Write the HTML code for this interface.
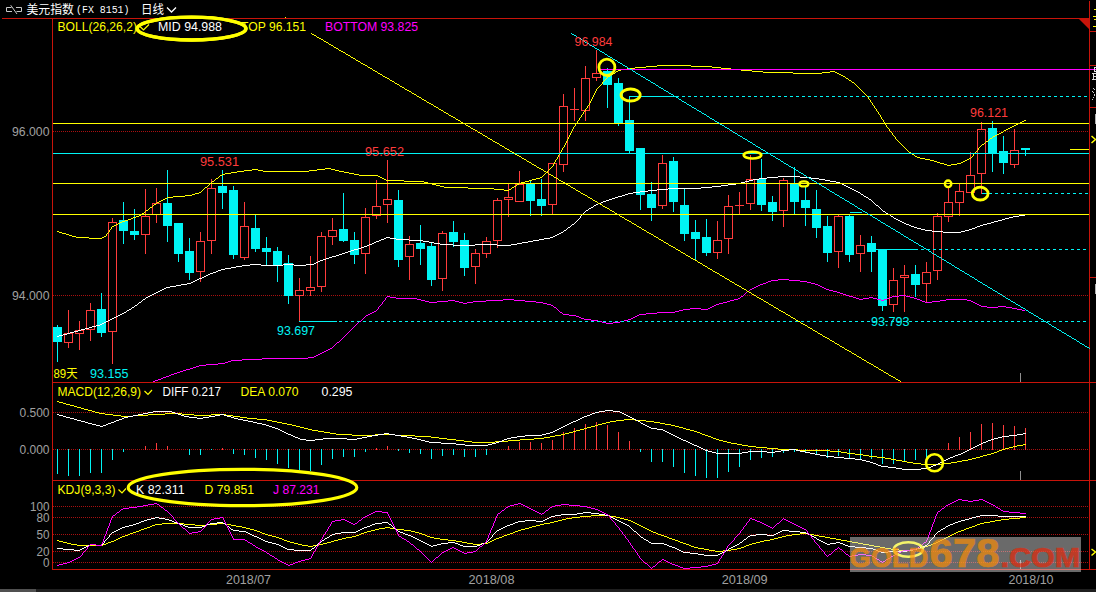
<!DOCTYPE html>
<html lang="zh"><head><meta charset="utf-8"><title>美元指数 日线</title>
<style>
html,body{margin:0;padding:0;background:#000;overflow:hidden}
svg{display:block}
text{white-space:pre}
</style></head><body>
<svg width="1096" height="592" viewBox="0 0 1096 592">
<rect x="0" y="0" width="1096" height="592" fill="#000"/>
<rect x="0" y="589" width="1096" height="3" fill="#1f1f1f"/>
<rect x="0" y="589" width="36" height="3" fill="#505050"/>
<line x1="53" y1="131.5" x2="1089" y2="131.5" stroke="#a81010" stroke-width="1" stroke-dasharray="1 1" shape-rendering="crispEdges"/>
<line x1="53" y1="295.5" x2="1089" y2="295.5" stroke="#a81010" stroke-width="1" stroke-dasharray="1 1" shape-rendering="crispEdges"/>
<line x1="53" y1="412.5" x2="1089" y2="412.5" stroke="#a81010" stroke-width="1" stroke-dasharray="1 1" shape-rendering="crispEdges"/>
<line x1="53" y1="449.5" x2="1089" y2="449.5" stroke="#a81010" stroke-width="1" stroke-dasharray="1 1" shape-rendering="crispEdges"/>
<line x1="53" y1="506.5" x2="1089" y2="506.5" stroke="#a81010" stroke-width="1" stroke-dasharray="1 1" shape-rendering="crispEdges"/>
<line x1="53" y1="517.5" x2="1089" y2="517.5" stroke="#a81010" stroke-width="1" stroke-dasharray="1 1" shape-rendering="crispEdges"/>
<line x1="53" y1="534.5" x2="1089" y2="534.5" stroke="#a81010" stroke-width="1" stroke-dasharray="1 1" shape-rendering="crispEdges"/>
<line x1="53" y1="551.5" x2="1089" y2="551.5" stroke="#a81010" stroke-width="1" stroke-dasharray="1 1" shape-rendering="crispEdges"/>
<line x1="53" y1="562.5" x2="1089" y2="562.5" stroke="#a81010" stroke-width="1" stroke-dasharray="1 1" shape-rendering="crispEdges"/>
<line x1="2" y1="18.5" x2="1089" y2="18.5" stroke="#c8140a" stroke-width="1" shape-rendering="crispEdges"/>
<line x1="53" y1="382.5" x2="1096" y2="382.5" stroke="#c8140a" stroke-width="1" shape-rendering="crispEdges"/>
<line x1="53" y1="480.5" x2="1096" y2="480.5" stroke="#c8140a" stroke-width="1" shape-rendering="crispEdges"/>
<line x1="53" y1="569.5" x2="1096" y2="569.5" stroke="#c8140a" stroke-width="1" shape-rendering="crispEdges"/>
<line x1="52.5" y1="18" x2="52.5" y2="570" stroke="#c8140a" stroke-width="1" shape-rendering="crispEdges"/>
<line x1="1089.5" y1="1" x2="1089.5" y2="570" stroke="#c8140a" stroke-width="1" shape-rendering="crispEdges"/>
<polygon points="1079,19 1089,19 1089,29" fill="#c8140a"/>
<line x1="1090" y1="31.5" x2="1096" y2="31.5" stroke="#c8140a" stroke-width="1" shape-rendering="crispEdges"/>
<line x1="1090" y1="65.5" x2="1096" y2="65.5" stroke="#c8140a" stroke-width="1" shape-rendering="crispEdges"/>
<line x1="1090" y1="107.5" x2="1096" y2="107.5" stroke="#c8140a" stroke-width="1" shape-rendering="crispEdges"/>
<line x1="1090" y1="277.5" x2="1096" y2="277.5" stroke="#c8140a" stroke-width="1" shape-rendering="crispEdges"/>
<rect x="57" y="325" width="1" height="37" fill="#00f4f4"/>
<rect x="53" y="327" width="9" height="15" fill="#00f4f4"/>
<rect x="68" y="310" width="1" height="23" fill="#ff3c3c"/>
<rect x="68" y="343" width="1" height="5" fill="#ff3c3c"/>
<rect x="64.5" y="333.5" width="8" height="9" fill="none" stroke="#ff3c3c" stroke-width="1"/>
<rect x="79" y="321" width="1" height="9" fill="#ff3c3c"/>
<rect x="79" y="334" width="1" height="16" fill="#ff3c3c"/>
<rect x="75.5" y="330.5" width="8" height="3" fill="none" stroke="#ff3c3c" stroke-width="1"/>
<rect x="90" y="303" width="1" height="7" fill="#ff3c3c"/>
<rect x="90" y="330" width="1" height="11" fill="#ff3c3c"/>
<rect x="86.5" y="310.5" width="8" height="19" fill="none" stroke="#ff3c3c" stroke-width="1"/>
<rect x="101" y="293" width="1" height="44" fill="#00f4f4"/>
<rect x="97" y="309" width="9" height="24" fill="#00f4f4"/>
<rect x="112" y="218" width="1" height="4" fill="#ff3c3c"/>
<rect x="112" y="332" width="1" height="32" fill="#ff3c3c"/>
<rect x="108.5" y="222.5" width="8" height="109" fill="none" stroke="#ff3c3c" stroke-width="1"/>
<rect x="123" y="202" width="1" height="42" fill="#00f4f4"/>
<rect x="119" y="220" width="9" height="11" fill="#00f4f4"/>
<rect x="134" y="209" width="1" height="31" fill="#00f4f4"/>
<rect x="130" y="231" width="9" height="4" fill="#00f4f4"/>
<rect x="145" y="189" width="1" height="27" fill="#ff3c3c"/>
<rect x="145" y="235" width="1" height="19" fill="#ff3c3c"/>
<rect x="141.5" y="216.5" width="8" height="18" fill="none" stroke="#ff3c3c" stroke-width="1"/>
<rect x="156" y="188" width="1" height="15" fill="#ff3c3c"/>
<rect x="156" y="215" width="1" height="8" fill="#ff3c3c"/>
<rect x="152.5" y="203.5" width="8" height="11" fill="none" stroke="#ff3c3c" stroke-width="1"/>
<rect x="167" y="170" width="1" height="72" fill="#00f4f4"/>
<rect x="163" y="203" width="9" height="23" fill="#00f4f4"/>
<rect x="178" y="223" width="1" height="39" fill="#00f4f4"/>
<rect x="174" y="223" width="9" height="31" fill="#00f4f4"/>
<rect x="189" y="238" width="1" height="42" fill="#00f4f4"/>
<rect x="185" y="251" width="9" height="22" fill="#00f4f4"/>
<rect x="200" y="232" width="1" height="9" fill="#ff3c3c"/>
<rect x="200" y="272" width="1" height="10" fill="#ff3c3c"/>
<rect x="196.5" y="241.5" width="8" height="30" fill="none" stroke="#ff3c3c" stroke-width="1"/>
<rect x="211" y="179" width="1" height="9" fill="#ff3c3c"/>
<rect x="211" y="241" width="1" height="13" fill="#ff3c3c"/>
<rect x="207.5" y="188.5" width="8" height="52" fill="none" stroke="#ff3c3c" stroke-width="1"/>
<rect x="222" y="170" width="1" height="39" fill="#00f4f4"/>
<rect x="218" y="186" width="9" height="7" fill="#00f4f4"/>
<rect x="233" y="186" width="1" height="73" fill="#00f4f4"/>
<rect x="229" y="190" width="9" height="65" fill="#00f4f4"/>
<rect x="244" y="202" width="1" height="24" fill="#ff3c3c"/>
<rect x="244" y="258" width="1" height="2" fill="#ff3c3c"/>
<rect x="240.5" y="226.5" width="8" height="31" fill="none" stroke="#ff3c3c" stroke-width="1"/>
<rect x="255" y="215" width="1" height="37" fill="#00f4f4"/>
<rect x="251" y="228" width="9" height="21" fill="#00f4f4"/>
<rect x="266" y="237" width="1" height="28" fill="#00f4f4"/>
<rect x="262" y="248" width="9" height="4" fill="#00f4f4"/>
<rect x="277" y="247" width="1" height="35" fill="#00f4f4"/>
<rect x="273" y="251" width="9" height="15" fill="#00f4f4"/>
<rect x="288" y="255" width="1" height="49" fill="#00f4f4"/>
<rect x="284" y="263" width="9" height="33" fill="#00f4f4"/>
<rect x="299" y="278" width="1" height="12" fill="#ff3c3c"/>
<rect x="299" y="296" width="1" height="25" fill="#ff3c3c"/>
<rect x="295.5" y="290.5" width="8" height="5" fill="none" stroke="#ff3c3c" stroke-width="1"/>
<rect x="310" y="256" width="1" height="31" fill="#ff3c3c"/>
<rect x="310" y="291" width="1" height="5" fill="#ff3c3c"/>
<rect x="306.5" y="287.5" width="8" height="3" fill="none" stroke="#ff3c3c" stroke-width="1"/>
<rect x="321" y="232" width="1" height="4" fill="#ff3c3c"/>
<rect x="321" y="287" width="1" height="5" fill="#ff3c3c"/>
<rect x="317.5" y="236.5" width="8" height="50" fill="none" stroke="#ff3c3c" stroke-width="1"/>
<rect x="332" y="218" width="1" height="12" fill="#ff3c3c"/>
<rect x="332" y="237" width="1" height="8" fill="#ff3c3c"/>
<rect x="328.5" y="230.5" width="8" height="6" fill="none" stroke="#ff3c3c" stroke-width="1"/>
<rect x="343" y="193" width="1" height="49" fill="#00f4f4"/>
<rect x="339" y="229" width="9" height="12" fill="#00f4f4"/>
<rect x="354" y="232" width="1" height="32" fill="#00f4f4"/>
<rect x="350" y="240" width="9" height="15" fill="#00f4f4"/>
<rect x="365" y="208" width="1" height="9" fill="#ff3c3c"/>
<rect x="365" y="254" width="1" height="20" fill="#ff3c3c"/>
<rect x="361.5" y="217.5" width="8" height="36" fill="none" stroke="#ff3c3c" stroke-width="1"/>
<rect x="376" y="180" width="1" height="26" fill="#ff3c3c"/>
<rect x="376" y="216" width="1" height="3" fill="#ff3c3c"/>
<rect x="372.5" y="206.5" width="8" height="9" fill="none" stroke="#ff3c3c" stroke-width="1"/>
<rect x="387" y="160" width="1" height="39" fill="#ff3c3c"/>
<rect x="387" y="205" width="1" height="18" fill="#ff3c3c"/>
<rect x="383.5" y="199.5" width="8" height="5" fill="none" stroke="#ff3c3c" stroke-width="1"/>
<rect x="398" y="190" width="1" height="77" fill="#00f4f4"/>
<rect x="394" y="200" width="9" height="60" fill="#00f4f4"/>
<rect x="409" y="236" width="1" height="8" fill="#ff3c3c"/>
<rect x="409" y="257" width="1" height="23" fill="#ff3c3c"/>
<rect x="405.5" y="244.5" width="8" height="12" fill="none" stroke="#ff3c3c" stroke-width="1"/>
<rect x="420" y="225" width="1" height="40" fill="#00f4f4"/>
<rect x="416" y="243" width="9" height="6" fill="#00f4f4"/>
<rect x="431" y="242" width="1" height="44" fill="#00f4f4"/>
<rect x="427" y="246" width="9" height="34" fill="#00f4f4"/>
<rect x="442" y="231" width="1" height="2" fill="#ff3c3c"/>
<rect x="442" y="279" width="1" height="12" fill="#ff3c3c"/>
<rect x="438.5" y="233.5" width="8" height="45" fill="none" stroke="#ff3c3c" stroke-width="1"/>
<rect x="453" y="221" width="1" height="26" fill="#00f4f4"/>
<rect x="449" y="232" width="9" height="10" fill="#00f4f4"/>
<rect x="464" y="233" width="1" height="43" fill="#00f4f4"/>
<rect x="460" y="240" width="9" height="28" fill="#00f4f4"/>
<rect x="475" y="249" width="1" height="4" fill="#ff3c3c"/>
<rect x="475" y="267" width="1" height="17" fill="#ff3c3c"/>
<rect x="471.5" y="253.5" width="8" height="13" fill="none" stroke="#ff3c3c" stroke-width="1"/>
<rect x="486" y="237" width="1" height="4" fill="#ff3c3c"/>
<rect x="486" y="254" width="1" height="4" fill="#ff3c3c"/>
<rect x="482.5" y="241.5" width="8" height="12" fill="none" stroke="#ff3c3c" stroke-width="1"/>
<rect x="497" y="198" width="1" height="2" fill="#ff3c3c"/>
<rect x="497" y="241" width="1" height="7" fill="#ff3c3c"/>
<rect x="493.5" y="200.5" width="8" height="40" fill="none" stroke="#ff3c3c" stroke-width="1"/>
<rect x="508" y="184" width="1" height="13" fill="#ff3c3c"/>
<rect x="508" y="200" width="1" height="17" fill="#ff3c3c"/>
<rect x="504.5" y="197.5" width="8" height="2" fill="none" stroke="#ff3c3c" stroke-width="1"/>
<rect x="519" y="171" width="1" height="13" fill="#ff3c3c"/>
<rect x="515.5" y="184.5" width="8" height="17" fill="none" stroke="#ff3c3c" stroke-width="1"/>
<rect x="530" y="180" width="1" height="36" fill="#00f4f4"/>
<rect x="526" y="184" width="9" height="17" fill="#00f4f4"/>
<rect x="541" y="179" width="1" height="37" fill="#00f4f4"/>
<rect x="537" y="199" width="9" height="7" fill="#00f4f4"/>
<rect x="552" y="205" width="1" height="9" fill="#ff3c3c"/>
<rect x="548.5" y="163.5" width="8" height="41" fill="none" stroke="#ff3c3c" stroke-width="1"/>
<rect x="563" y="94" width="1" height="12" fill="#ff3c3c"/>
<rect x="563" y="165" width="1" height="7" fill="#ff3c3c"/>
<rect x="559.5" y="106.5" width="8" height="58" fill="none" stroke="#ff3c3c" stroke-width="1"/>
<rect x="574" y="88" width="1" height="21" fill="#ff3c3c"/>
<rect x="574" y="110" width="1" height="11" fill="#ff3c3c"/>
<rect x="570" y="109" width="9" height="1" fill="#ff3c3c"/>
<rect x="585" y="66" width="1" height="12" fill="#ff3c3c"/>
<rect x="585" y="111" width="1" height="10" fill="#ff3c3c"/>
<rect x="581.5" y="78.5" width="8" height="32" fill="none" stroke="#ff3c3c" stroke-width="1"/>
<rect x="596" y="50" width="1" height="23" fill="#ff3c3c"/>
<rect x="596" y="78" width="1" height="3" fill="#ff3c3c"/>
<rect x="592.5" y="73.5" width="8" height="4" fill="none" stroke="#ff3c3c" stroke-width="1"/>
<rect x="607" y="68" width="1" height="40" fill="#00f4f4"/>
<rect x="603" y="71" width="9" height="14" fill="#00f4f4"/>
<rect x="618" y="78" width="1" height="48" fill="#00f4f4"/>
<rect x="614" y="83" width="9" height="41" fill="#00f4f4"/>
<rect x="629" y="96" width="1" height="58" fill="#00f4f4"/>
<rect x="625" y="120" width="9" height="31" fill="#00f4f4"/>
<rect x="640" y="148" width="1" height="62" fill="#00f4f4"/>
<rect x="636" y="148" width="9" height="47" fill="#00f4f4"/>
<rect x="651" y="182" width="1" height="39" fill="#00f4f4"/>
<rect x="647" y="194" width="9" height="14" fill="#00f4f4"/>
<rect x="662" y="155" width="1" height="8" fill="#ff3c3c"/>
<rect x="662" y="206" width="1" height="3" fill="#ff3c3c"/>
<rect x="658.5" y="163.5" width="8" height="42" fill="none" stroke="#ff3c3c" stroke-width="1"/>
<rect x="673" y="157" width="1" height="55" fill="#00f4f4"/>
<rect x="669" y="161" width="9" height="41" fill="#00f4f4"/>
<rect x="684" y="188" width="1" height="53" fill="#00f4f4"/>
<rect x="680" y="205" width="9" height="29" fill="#00f4f4"/>
<rect x="695" y="220" width="1" height="41" fill="#00f4f4"/>
<rect x="691" y="232" width="9" height="7" fill="#00f4f4"/>
<rect x="706" y="219" width="1" height="37" fill="#00f4f4"/>
<rect x="702" y="237" width="9" height="16" fill="#00f4f4"/>
<rect x="717" y="221" width="1" height="19" fill="#ff3c3c"/>
<rect x="717" y="253" width="1" height="6" fill="#ff3c3c"/>
<rect x="713.5" y="240.5" width="8" height="12" fill="none" stroke="#ff3c3c" stroke-width="1"/>
<rect x="728" y="195" width="1" height="11" fill="#ff3c3c"/>
<rect x="728" y="239" width="1" height="15" fill="#ff3c3c"/>
<rect x="724.5" y="206.5" width="8" height="32" fill="none" stroke="#ff3c3c" stroke-width="1"/>
<rect x="739" y="192" width="1" height="13" fill="#ff3c3c"/>
<rect x="739" y="206" width="1" height="8" fill="#ff3c3c"/>
<rect x="735" y="205" width="9" height="1" fill="#ff3c3c"/>
<rect x="750" y="155" width="1" height="24" fill="#ff3c3c"/>
<rect x="750" y="204" width="1" height="6" fill="#ff3c3c"/>
<rect x="746.5" y="179.5" width="8" height="24" fill="none" stroke="#ff3c3c" stroke-width="1"/>
<rect x="761" y="159" width="1" height="52" fill="#00f4f4"/>
<rect x="757" y="179" width="9" height="26" fill="#00f4f4"/>
<rect x="772" y="196" width="1" height="25" fill="#00f4f4"/>
<rect x="768" y="202" width="9" height="10" fill="#00f4f4"/>
<rect x="783" y="178" width="1" height="2" fill="#ff3c3c"/>
<rect x="783" y="211" width="1" height="16" fill="#ff3c3c"/>
<rect x="779.5" y="180.5" width="8" height="30" fill="none" stroke="#ff3c3c" stroke-width="1"/>
<rect x="794" y="167" width="1" height="47" fill="#00f4f4"/>
<rect x="790" y="184" width="9" height="18" fill="#00f4f4"/>
<rect x="805" y="186" width="1" height="40" fill="#00f4f4"/>
<rect x="801" y="200" width="9" height="8" fill="#00f4f4"/>
<rect x="816" y="190" width="1" height="48" fill="#00f4f4"/>
<rect x="812" y="209" width="9" height="19" fill="#00f4f4"/>
<rect x="827" y="216" width="1" height="46" fill="#00f4f4"/>
<rect x="823" y="226" width="9" height="27" fill="#00f4f4"/>
<rect x="838" y="214" width="1" height="2" fill="#ff3c3c"/>
<rect x="838" y="252" width="1" height="16" fill="#ff3c3c"/>
<rect x="834.5" y="216.5" width="8" height="35" fill="none" stroke="#ff3c3c" stroke-width="1"/>
<rect x="849" y="215" width="1" height="47" fill="#00f4f4"/>
<rect x="845" y="216" width="9" height="39" fill="#00f4f4"/>
<rect x="860" y="235" width="1" height="10" fill="#ff3c3c"/>
<rect x="860" y="254" width="1" height="18" fill="#ff3c3c"/>
<rect x="856.5" y="245.5" width="8" height="8" fill="none" stroke="#ff3c3c" stroke-width="1"/>
<rect x="871" y="236" width="1" height="36" fill="#00f4f4"/>
<rect x="867" y="243" width="9" height="9" fill="#00f4f4"/>
<rect x="882" y="250" width="1" height="61" fill="#00f4f4"/>
<rect x="878" y="250" width="9" height="56" fill="#00f4f4"/>
<rect x="893" y="268" width="1" height="12" fill="#ff3c3c"/>
<rect x="893" y="305" width="1" height="7" fill="#ff3c3c"/>
<rect x="889.5" y="280.5" width="8" height="24" fill="none" stroke="#ff3c3c" stroke-width="1"/>
<rect x="904" y="265" width="1" height="10" fill="#ff3c3c"/>
<rect x="904" y="278" width="1" height="34" fill="#ff3c3c"/>
<rect x="900.5" y="275.5" width="8" height="2" fill="none" stroke="#ff3c3c" stroke-width="1"/>
<rect x="915" y="265" width="1" height="32" fill="#00f4f4"/>
<rect x="911" y="274" width="9" height="11" fill="#00f4f4"/>
<rect x="926" y="262" width="1" height="10" fill="#ff3c3c"/>
<rect x="926" y="284" width="1" height="18" fill="#ff3c3c"/>
<rect x="922.5" y="272.5" width="8" height="11" fill="none" stroke="#ff3c3c" stroke-width="1"/>
<rect x="937" y="213" width="1" height="3" fill="#ff3c3c"/>
<rect x="937" y="271" width="1" height="9" fill="#ff3c3c"/>
<rect x="933.5" y="216.5" width="8" height="54" fill="none" stroke="#ff3c3c" stroke-width="1"/>
<rect x="948" y="188" width="1" height="14" fill="#ff3c3c"/>
<rect x="948" y="217" width="1" height="5" fill="#ff3c3c"/>
<rect x="944.5" y="202.5" width="8" height="14" fill="none" stroke="#ff3c3c" stroke-width="1"/>
<rect x="959" y="184" width="1" height="7" fill="#ff3c3c"/>
<rect x="959" y="203" width="1" height="13" fill="#ff3c3c"/>
<rect x="955.5" y="191.5" width="8" height="11" fill="none" stroke="#ff3c3c" stroke-width="1"/>
<rect x="970" y="152" width="1" height="23" fill="#ff3c3c"/>
<rect x="966.5" y="175.5" width="8" height="17" fill="none" stroke="#ff3c3c" stroke-width="1"/>
<rect x="981" y="122" width="1" height="7" fill="#ff3c3c"/>
<rect x="981" y="174" width="1" height="20" fill="#ff3c3c"/>
<rect x="977.5" y="129.5" width="8" height="44" fill="none" stroke="#ff3c3c" stroke-width="1"/>
<rect x="992" y="121" width="1" height="51" fill="#00f4f4"/>
<rect x="988" y="128" width="9" height="26" fill="#00f4f4"/>
<rect x="1003" y="136" width="1" height="38" fill="#00f4f4"/>
<rect x="999" y="151" width="9" height="12" fill="#00f4f4"/>
<rect x="1014" y="129" width="1" height="21" fill="#ff3c3c"/>
<rect x="1014" y="165" width="1" height="3" fill="#ff3c3c"/>
<rect x="1010.5" y="150.5" width="8" height="14" fill="none" stroke="#ff3c3c" stroke-width="1"/>
<rect x="1025" y="148" width="1" height="8" fill="#00f4f4"/>
<rect x="1021" y="148" width="9" height="2" fill="#00f4f4"/>
<path d="M657 65h34v1h-34zM646 66h11v1h-11zM691 66h21v1h-21zM635 67h11v1h-11zM712 67h9v1h-9zM627 68h8v1h-8zM721 68h10v1h-10zM621 69h6v1h-6zM731 69h10v1h-10zM618 70h3v1h-3zM741 70h11v1h-11zM616 71h2v1h-2zM752 71h11v1h-11zM830 71h5v1h-5zM615 72h1v1h-1zM763 72h30v1h-30zM822 72h8v1h-8zM835 72h2v1h-2zM613 73h2v1h-2zM793 73h29v1h-29zM837 73h2v1h-2zM611 74h2v1h-2zM839 74h2v1h-2zM610 75h1v1h-1zM841 75h2v1h-2zM608 76h2v1h-2zM843 76h2v1h-2zM607 77h1v1h-1zM845 77h1v1h-1zM606 78h1v1h-1zM846 78h2v1h-2zM605 79h1v1h-1zM848 79h1v1h-1zM604 80h1v1h-1zM849 80h2v1h-2zM603 81h1v1h-1zM851 81h1v1h-1zM602 82h1v1h-1zM852 82h2v1h-2zM602 83h1v1h-1zM854 83h1v1h-1zM601 84h1v1h-1zM855 84h1v1h-1zM600 85h1v1h-1zM856 85h1v1h-1zM599 86h1v1h-1zM857 86h1v1h-1zM598 87h1v1h-1zM858 87h1v1h-1zM597 88h1v1h-1zM859 88h1v1h-1zM596 89h1v1h-1zM860 89h1v1h-1zM596 90h1v1h-1zM861 90h1v1h-1zM595 91h1v1h-1zM862 91h1v1h-1zM595 92h1v1h-1zM863 92h1v1h-1zM594 93h1v1h-1zM864 93h1v1h-1zM594 94h1v1h-1zM865 94h1v1h-1zM593 95h1v1h-1zM866 95h1v1h-1zM593 96h1v1h-1zM867 96h1v1h-1zM592 97h1v1h-1zM868 97h1v1h-1zM592 98h1v1h-1zM868 98h1v1h-1zM591 99h1v1h-1zM869 99h1v1h-1zM591 100h1v1h-1zM870 100h1v1h-1zM590 101h1v1h-1zM870 101h1v1h-1zM590 102h1v1h-1zM871 102h1v1h-1zM589 103h1v1h-1zM872 103h1v1h-1zM589 104h1v1h-1zM872 104h1v1h-1zM588 105h1v1h-1zM873 105h1v1h-1zM587 106h1v1h-1zM874 106h1v1h-1zM587 107h1v1h-1zM874 107h1v1h-1zM586 108h1v1h-1zM875 108h1v1h-1zM585 109h1v1h-1zM876 109h1v1h-1zM585 110h1v1h-1zM876 110h1v1h-1zM584 111h1v1h-1zM877 111h1v1h-1zM583 112h1v1h-1zM878 112h1v1h-1zM583 113h1v1h-1zM878 113h1v1h-1zM582 114h1v1h-1zM879 114h1v1h-1zM581 115h1v1h-1zM880 115h1v1h-1zM581 116h1v1h-1zM880 116h1v1h-1zM580 117h1v1h-1zM881 117h1v1h-1zM579 118h1v1h-1zM881 118h1v1h-1zM579 119h1v1h-1zM882 119h1v1h-1zM578 120h1v1h-1zM883 120h1v1h-1zM1024 120h2v1h-2zM577 121h1v1h-1zM883 121h1v1h-1zM1022 121h2v1h-2zM577 122h1v1h-1zM884 122h1v1h-1zM1020 122h2v1h-2zM576 123h1v1h-1zM885 123h1v1h-1zM1018 123h2v1h-2zM575 124h1v1h-1zM885 124h1v1h-1zM1016 124h2v1h-2zM575 125h1v1h-1zM886 125h1v1h-1zM1014 125h2v1h-2zM574 126h1v1h-1zM886 126h1v1h-1zM1012 126h2v1h-2zM573 127h1v1h-1zM887 127h1v1h-1zM1010 127h2v1h-2zM573 128h1v1h-1zM888 128h1v1h-1zM1008 128h2v1h-2zM572 129h1v1h-1zM889 129h1v1h-1zM1006 129h2v1h-2zM572 130h1v1h-1zM889 130h1v1h-1zM1004 130h2v1h-2zM571 131h1v1h-1zM890 131h1v1h-1zM1003 131h1v1h-1zM571 132h1v1h-1zM891 132h1v1h-1zM1001 132h2v1h-2zM570 133h1v1h-1zM892 133h1v1h-1zM999 133h2v1h-2zM570 134h1v1h-1zM892 134h1v1h-1zM997 134h2v1h-2zM569 135h1v1h-1zM893 135h1v1h-1zM995 135h2v1h-2zM569 136h1v1h-1zM894 136h1v1h-1zM993 136h2v1h-2zM568 137h1v1h-1zM895 137h1v1h-1zM992 137h1v1h-1zM568 138h1v1h-1zM895 138h1v1h-1zM990 138h2v1h-2zM567 139h1v1h-1zM896 139h1v1h-1zM989 139h1v1h-1zM567 140h1v1h-1zM897 140h1v1h-1zM988 140h1v1h-1zM566 141h1v1h-1zM898 141h1v1h-1zM986 141h2v1h-2zM566 142h1v1h-1zM899 142h1v1h-1zM985 142h1v1h-1zM565 143h1v1h-1zM900 143h1v1h-1zM984 143h1v1h-1zM565 144h1v1h-1zM901 144h1v1h-1zM982 144h2v1h-2zM564 145h1v1h-1zM902 145h1v1h-1zM981 145h1v1h-1zM564 146h1v1h-1zM903 146h1v1h-1zM980 146h1v1h-1zM563 147h1v1h-1zM904 147h1v1h-1zM979 147h1v1h-1zM562 148h1v1h-1zM905 148h1v1h-1zM978 148h1v1h-1zM562 149h1v1h-1zM906 149h1v1h-1zM978 149h1v1h-1zM561 150h1v1h-1zM907 150h1v1h-1zM977 150h1v1h-1zM561 151h1v1h-1zM908 151h1v1h-1zM976 151h1v1h-1zM560 152h1v1h-1zM909 152h2v1h-2zM975 152h1v1h-1zM560 153h1v1h-1zM911 153h1v1h-1zM974 153h1v1h-1zM559 154h1v1h-1zM912 154h2v1h-2zM973 154h1v1h-1zM558 155h1v1h-1zM914 155h1v1h-1zM973 155h1v1h-1zM558 156h1v1h-1zM915 156h2v1h-2zM972 156h1v1h-1zM557 157h1v1h-1zM917 157h3v1h-3zM971 157h1v1h-1zM557 158h1v1h-1zM920 158h5v1h-5zM969 158h2v1h-2zM556 159h1v1h-1zM925 159h5v1h-5zM967 159h2v1h-2zM555 160h1v1h-1zM930 160h4v1h-4zM965 160h2v1h-2zM555 161h1v1h-1zM934 161h3v1h-3zM963 161h2v1h-2zM554 162h1v1h-1zM937 162h3v1h-3zM961 162h2v1h-2zM554 163h1v1h-1zM940 163h4v1h-4zM957 163h4v1h-4zM553 164h1v1h-1zM944 164h3v1h-3zM951 164h6v1h-6zM553 165h1v1h-1zM947 165h4v1h-4zM552 166h1v1h-1zM551 167h1v1h-1zM325 168h6v1h-6zM550 168h1v1h-1zM252 169h6v1h-6zM317 169h8v1h-8zM331 169h4v1h-4zM549 169h1v1h-1zM244 170h8v1h-8zM258 170h5v1h-5zM309 170h8v1h-8zM335 170h4v1h-4zM548 170h1v1h-1zM237 171h7v1h-7zM263 171h46v1h-46zM339 171h5v1h-5zM547 171h1v1h-1zM231 172h6v1h-6zM344 172h5v1h-5zM546 172h1v1h-1zM225 173h6v1h-6zM349 173h5v1h-5zM545 173h1v1h-1zM222 174h3v1h-3zM354 174h5v1h-5zM544 174h1v1h-1zM220 175h2v1h-2zM359 175h19v1h-19zM543 175h1v1h-1zM219 176h1v1h-1zM378 176h2v1h-2zM542 176h1v1h-1zM218 177h1v1h-1zM380 177h2v1h-2zM540 177h2v1h-2zM216 178h2v1h-2zM382 178h2v1h-2zM536 178h4v1h-4zM215 179h1v1h-1zM384 179h2v1h-2zM532 179h4v1h-4zM214 180h1v1h-1zM386 180h18v1h-18zM529 180h3v1h-3zM212 181h2v1h-2zM404 181h20v1h-20zM525 181h4v1h-4zM211 182h1v1h-1zM424 182h4v1h-4zM521 182h4v1h-4zM210 183h1v1h-1zM428 183h4v1h-4zM519 183h2v1h-2zM209 184h1v1h-1zM432 184h4v1h-4zM517 184h2v1h-2zM208 185h1v1h-1zM436 185h4v1h-4zM516 185h1v1h-1zM207 186h1v1h-1zM440 186h4v1h-4zM514 186h2v1h-2zM205 187h2v1h-2zM444 187h24v1h-24zM512 187h2v1h-2zM204 188h1v1h-1zM468 188h26v1h-26zM511 188h1v1h-1zM203 189h1v1h-1zM494 189h10v1h-10zM509 189h2v1h-2zM202 190h1v1h-1zM504 190h5v1h-5zM201 191h1v1h-1zM199 192h2v1h-2zM195 193h4v1h-4zM192 194h3v1h-3zM185 195h7v1h-7zM173 196h12v1h-12zM167 197h6v1h-6zM165 198h2v1h-2zM163 199h2v1h-2zM161 200h2v1h-2zM159 201h2v1h-2zM157 202h2v1h-2zM156 203h1v1h-1zM154 204h2v1h-2zM153 205h1v1h-1zM152 206h1v1h-1zM150 207h2v1h-2zM149 208h1v1h-1zM148 209h1v1h-1zM146 210h2v1h-2zM145 211h1v1h-1zM144 212h1v1h-1zM142 213h2v1h-2zM141 214h1v1h-1zM139 215h2v1h-2zM136 216h3v1h-3zM133 217h3v1h-3zM131 218h2v1h-2zM128 219h3v1h-3zM125 220h3v1h-3zM122 221h3v1h-3zM120 222h2v1h-2zM118 223h2v1h-2zM116 224h2v1h-2zM114 225h2v1h-2zM112 226h2v1h-2zM111 227h1v1h-1zM111 228h1v1h-1zM110 229h1v1h-1zM109 230h1v1h-1zM57 231h2v1h-2zM109 231h1v1h-1zM59 232h3v1h-3zM108 232h1v1h-1zM62 233h4v1h-4zM107 233h1v1h-1zM66 234h3v1h-3zM106 234h1v1h-1zM69 235h3v1h-3zM106 235h1v1h-1zM72 236h4v1h-4zM104 236h2v1h-2zM76 237h13v1h-13zM102 237h2v1h-2zM89 238h13v1h-13z" fill="#ffff00" shape-rendering="crispEdges"/>
<path d="M778 176h22v1h-22zM767 177h11v1h-11zM800 177h11v1h-11zM759 178h8v1h-8zM811 178h8v1h-8zM753 179h6v1h-6zM819 179h6v1h-6zM749 180h4v1h-4zM825 180h5v1h-5zM745 181h4v1h-4zM830 181h6v1h-6zM741 182h4v1h-4zM836 182h4v1h-4zM736 183h5v1h-5zM840 183h2v1h-2zM728 184h8v1h-8zM842 184h2v1h-2zM721 185h7v1h-7zM844 185h2v1h-2zM712 186h9v1h-9zM846 186h2v1h-2zM701 187h11v1h-11zM848 187h2v1h-2zM668 188h33v1h-33zM850 188h2v1h-2zM657 189h11v1h-11zM852 189h2v1h-2zM648 190h9v1h-9zM854 190h2v1h-2zM640 191h8v1h-8zM856 191h2v1h-2zM633 192h7v1h-7zM858 192h2v1h-2zM628 193h5v1h-5zM860 193h1v1h-1zM625 194h3v1h-3zM861 194h2v1h-2zM622 195h3v1h-3zM863 195h1v1h-1zM618 196h4v1h-4zM864 196h2v1h-2zM615 197h3v1h-3zM866 197h2v1h-2zM612 198h3v1h-3zM868 198h1v1h-1zM609 199h3v1h-3zM869 199h2v1h-2zM606 200h3v1h-3zM871 200h1v1h-1zM603 201h3v1h-3zM872 201h1v1h-1zM601 202h2v1h-2zM873 202h1v1h-1zM598 203h3v1h-3zM874 203h1v1h-1zM596 204h2v1h-2zM875 204h1v1h-1zM594 205h2v1h-2zM876 205h2v1h-2zM593 206h1v1h-1zM878 206h1v1h-1zM591 207h2v1h-2zM879 207h1v1h-1zM589 208h2v1h-2zM880 208h1v1h-1zM588 209h1v1h-1zM881 209h1v1h-1zM586 210h2v1h-2zM882 210h1v1h-1zM585 211h1v1h-1zM883 211h2v1h-2zM584 212h1v1h-1zM885 212h1v1h-1zM583 213h1v1h-1zM886 213h2v1h-2zM582 214h1v1h-1zM888 214h2v1h-2zM581 215h1v1h-1zM890 215h1v1h-1zM1019 215h6v1h-6zM580 216h1v1h-1zM891 216h2v1h-2zM1013 216h6v1h-6zM580 217h1v1h-1zM893 217h1v1h-1zM1009 217h4v1h-4zM579 218h1v1h-1zM894 218h2v1h-2zM1005 218h4v1h-4zM578 219h1v1h-1zM896 219h2v1h-2zM1002 219h3v1h-3zM577 220h1v1h-1zM898 220h2v1h-2zM998 220h4v1h-4zM576 221h1v1h-1zM900 221h2v1h-2zM994 221h4v1h-4zM575 222h1v1h-1zM902 222h2v1h-2zM991 222h3v1h-3zM574 223h1v1h-1zM904 223h2v1h-2zM987 223h4v1h-4zM572 224h2v1h-2zM906 224h3v1h-3zM983 224h4v1h-4zM571 225h1v1h-1zM909 225h2v1h-2zM980 225h3v1h-3zM570 226h1v1h-1zM911 226h3v1h-3zM977 226h3v1h-3zM568 227h2v1h-2zM914 227h3v1h-3zM975 227h2v1h-2zM567 228h1v1h-1zM917 228h4v1h-4zM972 228h3v1h-3zM566 229h1v1h-1zM921 229h4v1h-4zM969 229h3v1h-3zM564 230h2v1h-2zM925 230h7v1h-7zM965 230h4v1h-4zM563 231h1v1h-1zM932 231h11v1h-11zM961 231h4v1h-4zM561 232h2v1h-2zM943 232h18v1h-18zM559 233h2v1h-2zM557 234h2v1h-2zM555 235h2v1h-2zM553 236h2v1h-2zM386 237h4v1h-4zM550 237h3v1h-3zM384 238h2v1h-2zM390 238h6v1h-6zM544 238h6v1h-6zM381 239h3v1h-3zM396 239h13v1h-13zM539 239h5v1h-5zM379 240h2v1h-2zM409 240h14v1h-14zM533 240h6v1h-6zM376 241h3v1h-3zM423 241h6v1h-6zM528 241h5v1h-5zM374 242h2v1h-2zM429 242h5v1h-5zM522 242h6v1h-6zM372 243h2v1h-2zM434 243h6v1h-6zM517 243h5v1h-5zM369 244h3v1h-3zM440 244h13v1h-13zM475 244h22v1h-22zM511 244h6v1h-6zM367 245h2v1h-2zM453 245h22v1h-22zM497 245h14v1h-14zM364 246h3v1h-3zM361 247h3v1h-3zM358 248h3v1h-3zM354 249h4v1h-4zM351 250h3v1h-3zM348 251h3v1h-3zM345 252h3v1h-3zM342 253h3v1h-3zM339 254h3v1h-3zM336 255h3v1h-3zM332 256h4v1h-4zM329 257h3v1h-3zM326 258h3v1h-3zM323 259h3v1h-3zM320 260h3v1h-3zM318 261h2v1h-2zM316 262h2v1h-2zM314 263h2v1h-2zM250 264h11v1h-11zM283 264h11v1h-11zM306 264h8v1h-8zM242 265h8v1h-8zM261 265h22v1h-22zM294 265h12v1h-12zM236 266h6v1h-6zM231 267h5v1h-5zM225 268h6v1h-6zM221 269h4v1h-4zM218 270h3v1h-3zM216 271h2v1h-2zM213 272h3v1h-3zM210 273h3v1h-3zM208 274h2v1h-2zM206 275h2v1h-2zM204 276h2v1h-2zM202 277h2v1h-2zM199 278h3v1h-3zM197 279h2v1h-2zM195 280h2v1h-2zM193 281h2v1h-2zM191 282h2v1h-2zM187 283h4v1h-4zM181 284h6v1h-6zM176 285h5v1h-5zM170 286h6v1h-6zM166 287h4v1h-4zM164 288h2v1h-2zM162 289h2v1h-2zM160 290h2v1h-2zM158 291h2v1h-2zM156 292h2v1h-2zM154 293h2v1h-2zM152 294h2v1h-2zM150 295h2v1h-2zM148 296h2v1h-2zM146 297h2v1h-2zM145 298h1v1h-1zM143 299h2v1h-2zM142 300h1v1h-1zM141 301h1v1h-1zM139 302h2v1h-2zM138 303h1v1h-1zM137 304h1v1h-1zM135 305h2v1h-2zM134 306h1v1h-1zM132 307h2v1h-2zM131 308h1v1h-1zM129 309h2v1h-2zM127 310h2v1h-2zM126 311h1v1h-1zM124 312h2v1h-2zM122 313h2v1h-2zM120 314h2v1h-2zM118 315h2v1h-2zM116 316h2v1h-2zM114 317h2v1h-2zM112 318h2v1h-2zM110 319h2v1h-2zM108 320h2v1h-2zM106 321h2v1h-2zM104 322h2v1h-2zM102 323h2v1h-2zM100 324h2v1h-2zM96 325h4v1h-4zM92 326h4v1h-4zM89 327h3v1h-3zM85 328h4v1h-4zM81 329h4v1h-4zM78 330h3v1h-3zM74 331h4v1h-4zM70 332h4v1h-4zM67 333h3v1h-3zM63 334h4v1h-4zM59 335h4v1h-4zM57 336h2v1h-2z" fill="#ffffff" shape-rendering="crispEdges"/>
<path d="M778 279h11v1h-11zM771 280h7v1h-7zM789 280h11v1h-11zM768 281h3v1h-3zM800 281h7v1h-7zM766 282h2v1h-2zM807 282h4v1h-4zM763 283h3v1h-3zM811 283h4v1h-4zM760 284h3v1h-3zM815 284h3v1h-3zM758 285h2v1h-2zM818 285h2v1h-2zM756 286h2v1h-2zM820 286h2v1h-2zM754 287h2v1h-2zM822 287h2v1h-2zM752 288h2v1h-2zM824 288h2v1h-2zM750 289h2v1h-2zM826 289h3v1h-3zM749 290h1v1h-1zM829 290h4v1h-4zM747 291h2v1h-2zM833 291h4v1h-4zM746 292h1v1h-1zM837 292h3v1h-3zM745 293h1v1h-1zM840 293h3v1h-3zM744 294h1v1h-1zM843 294h3v1h-3zM743 295h1v1h-1zM846 295h3v1h-3zM899 295h7v1h-7zM387 296h3v1h-3zM741 296h2v1h-2zM849 296h4v1h-4zM892 296h7v1h-7zM906 296h4v1h-4zM386 297h1v1h-1zM390 297h6v1h-6zM740 297h1v1h-1zM853 297h3v1h-3zM869 297h4v1h-4zM889 297h3v1h-3zM910 297h4v1h-4zM385 298h1v1h-1zM396 298h21v1h-21zM738 298h2v1h-2zM856 298h3v1h-3zM863 298h6v1h-6zM873 298h4v1h-4zM887 298h2v1h-2zM914 298h3v1h-3zM385 299h1v1h-1zM417 299h4v1h-4zM503 299h11v1h-11zM734 299h4v1h-4zM859 299h4v1h-4zM877 299h4v1h-4zM884 299h3v1h-3zM917 299h3v1h-3zM946 299h21v1h-21zM384 300h1v1h-1zM421 300h4v1h-4zM448 300h7v1h-7zM486 300h17v1h-17zM514 300h11v1h-11zM730 300h4v1h-4zM881 300h3v1h-3zM920 300h2v1h-2zM940 300h6v1h-6zM967 300h4v1h-4zM383 301h1v1h-1zM425 301h4v1h-4zM437 301h11v1h-11zM455 301h4v1h-4zM473 301h13v1h-13zM525 301h11v1h-11zM727 301h3v1h-3zM922 301h3v1h-3zM932 301h8v1h-8zM971 301h2v1h-2zM382 302h1v1h-1zM429 302h8v1h-8zM459 302h4v1h-4zM467 302h6v1h-6zM536 302h7v1h-7zM723 302h4v1h-4zM925 302h7v1h-7zM973 302h2v1h-2zM382 303h1v1h-1zM463 303h4v1h-4zM543 303h4v1h-4zM719 303h4v1h-4zM975 303h2v1h-2zM381 304h1v1h-1zM547 304h4v1h-4zM716 304h3v1h-3zM977 304h2v1h-2zM380 305h1v1h-1zM551 305h2v1h-2zM714 305h2v1h-2zM979 305h2v1h-2zM379 306h1v1h-1zM553 306h1v1h-1zM712 306h2v1h-2zM981 306h6v1h-6zM998 306h8v1h-8zM378 307h1v1h-1zM554 307h2v1h-2zM710 307h2v1h-2zM987 307h11v1h-11zM1006 307h6v1h-6zM378 308h1v1h-1zM556 308h1v1h-1zM690 308h11v1h-11zM708 308h2v1h-2zM1012 308h5v1h-5zM377 309h1v1h-1zM557 309h1v1h-1zM683 309h7v1h-7zM701 309h7v1h-7zM1017 309h5v1h-5zM376 310h1v1h-1zM558 310h1v1h-1zM679 310h4v1h-4zM1022 310h3v1h-3zM374 311h2v1h-2zM559 311h1v1h-1zM675 311h4v1h-4zM372 312h2v1h-2zM560 312h2v1h-2zM657 312h18v1h-18zM370 313h2v1h-2zM562 313h1v1h-1zM646 313h11v1h-11zM368 314h2v1h-2zM563 314h6v1h-6zM639 314h7v1h-7zM366 315h2v1h-2zM569 315h7v1h-7zM637 315h2v1h-2zM365 316h1v1h-1zM576 316h3v1h-3zM635 316h2v1h-2zM364 317h1v1h-1zM579 317h2v1h-2zM633 317h2v1h-2zM363 318h1v1h-1zM581 318h3v1h-3zM631 318h2v1h-2zM362 319h1v1h-1zM584 319h7v1h-7zM628 319h3v1h-3zM361 320h1v1h-1zM591 320h7v1h-7zM624 320h4v1h-4zM359 321h2v1h-2zM598 321h4v1h-4zM620 321h4v1h-4zM358 322h1v1h-1zM602 322h4v1h-4zM613 322h7v1h-7zM357 323h1v1h-1zM606 323h7v1h-7zM356 324h1v1h-1zM355 325h1v1h-1zM354 326h1v1h-1zM353 327h1v1h-1zM352 328h1v1h-1zM351 329h1v1h-1zM350 330h1v1h-1zM349 331h1v1h-1zM348 332h1v1h-1zM347 333h1v1h-1zM346 334h1v1h-1zM345 335h1v1h-1zM344 336h1v1h-1zM343 337h1v1h-1zM342 338h1v1h-1zM341 339h1v1h-1zM340 340h1v1h-1zM339 341h1v1h-1zM337 342h2v1h-2zM336 343h1v1h-1zM335 344h1v1h-1zM334 345h1v1h-1zM333 346h1v1h-1zM332 347h1v1h-1zM330 348h2v1h-2zM328 349h2v1h-2zM326 350h2v1h-2zM324 351h2v1h-2zM322 352h2v1h-2zM320 353h2v1h-2zM318 354h2v1h-2zM316 355h2v1h-2zM314 356h2v1h-2zM308 357h6v1h-6zM262 358h46v1h-46zM242 359h20v1h-20zM231 360h11v1h-11zM228 361h3v1h-3zM225 362h3v1h-3zM218 363h7v1h-7zM206 364h12v1h-12zM199 365h7v1h-7zM196 366h3v1h-3zM193 367h3v1h-3zM190 368h3v1h-3zM186 369h4v1h-4zM183 370h3v1h-3zM180 371h3v1h-3zM177 372h3v1h-3zM174 373h3v1h-3zM171 374h3v1h-3zM169 375h2v1h-2zM166 376h3v1h-3zM163 377h3v1h-3zM161 378h2v1h-2zM158 379h3v1h-3zM155 380h3v1h-3zM153 381h2v1h-2z" fill="#ff00ff" shape-rendering="crispEdges"/>
<line x1="599" y1="69.5" x2="1096" y2="69.5" stroke="#ff00ff" stroke-width="1" shape-rendering="crispEdges"/>
<line x1="53" y1="123.5" x2="1089" y2="123.5" stroke="#ffff00" stroke-width="1.4" shape-rendering="crispEdges"/>
<line x1="53" y1="153.5" x2="1089" y2="153.5" stroke="#00f4f4" stroke-width="1.2" shape-rendering="crispEdges"/>
<line x1="53" y1="183.5" x2="1089" y2="183.5" stroke="#ffff00" stroke-width="1.4" shape-rendering="crispEdges"/>
<line x1="53" y1="214.5" x2="1089" y2="214.5" stroke="#ffff00" stroke-width="1.4" shape-rendering="crispEdges"/>
<line x1="1070" y1="149.5" x2="1089" y2="149.5" stroke="#ffff00" stroke-width="1.4" shape-rendering="crispEdges"/>
<line x1="629" y1="96.5" x2="675" y2="96.5" stroke="#00f4f4" stroke-width="1" shape-rendering="crispEdges"/>
<line x1="676" y1="96.5" x2="1089" y2="96.5" stroke="#00f4f4" stroke-width="1" stroke-dasharray="3 3" shape-rendering="crispEdges"/>
<line x1="982" y1="193.5" x2="992" y2="193.5" stroke="#00f4f4" stroke-width="1" shape-rendering="crispEdges"/>
<line x1="995" y1="193.5" x2="1089" y2="193.5" stroke="#00f4f4" stroke-width="1" stroke-dasharray="3 3" shape-rendering="crispEdges"/>
<line x1="871" y1="249.5" x2="918" y2="249.5" stroke="#00f4f4" stroke-width="1" shape-rendering="crispEdges"/>
<line x1="921" y1="249.5" x2="1089" y2="249.5" stroke="#00f4f4" stroke-width="1" stroke-dasharray="3 3" shape-rendering="crispEdges"/>
<line x1="299" y1="321.5" x2="337" y2="321.5" stroke="#00f4f4" stroke-width="1" shape-rendering="crispEdges"/>
<line x1="339" y1="321.5" x2="1089" y2="321.5" stroke="#00f4f4" stroke-width="1" stroke-dasharray="3 3" shape-rendering="crispEdges"/>
<line x1="850" y1="212.5" x2="862" y2="212.5" stroke="#00f4f4" stroke-width="1" shape-rendering="crispEdges"/>
<path d="M311 33h1v1h-1zM312 34h2v1h-2zM314 35h2v1h-2zM316 36h1v1h-1zM317 37h2v1h-2zM319 38h2v1h-2zM321 39h2v1h-2zM323 40h1v1h-1zM324 41h2v1h-2zM326 42h2v1h-2zM328 43h1v1h-1zM329 44h2v1h-2zM331 45h2v1h-2zM333 46h1v1h-1zM334 47h2v1h-2zM336 48h2v1h-2zM338 49h1v1h-1zM339 50h2v1h-2zM341 51h2v1h-2zM343 52h2v1h-2zM345 53h1v1h-1zM346 54h2v1h-2zM348 55h2v1h-2zM350 56h1v1h-1zM351 57h2v1h-2zM353 58h2v1h-2zM355 59h1v1h-1zM356 60h2v1h-2zM358 61h2v1h-2zM360 62h1v1h-1zM361 63h2v1h-2zM363 64h2v1h-2zM365 65h2v1h-2zM367 66h1v1h-1zM368 67h2v1h-2zM370 68h2v1h-2zM372 69h1v1h-1zM373 70h2v1h-2zM375 71h2v1h-2zM377 72h1v1h-1zM378 73h2v1h-2zM380 74h2v1h-2zM382 75h1v1h-1zM383 76h2v1h-2zM385 77h2v1h-2zM387 78h2v1h-2zM389 79h1v1h-1zM390 80h2v1h-2zM392 81h2v1h-2zM394 82h1v1h-1zM395 83h2v1h-2zM397 84h2v1h-2zM399 85h1v1h-1zM400 86h2v1h-2zM402 87h2v1h-2zM404 88h1v1h-1zM405 89h2v1h-2zM407 90h2v1h-2zM409 91h2v1h-2zM411 92h1v1h-1zM412 93h2v1h-2zM414 94h2v1h-2zM416 95h1v1h-1zM417 96h2v1h-2zM419 97h2v1h-2zM421 98h1v1h-1zM422 99h2v1h-2zM424 100h2v1h-2zM426 101h1v1h-1zM427 102h2v1h-2zM429 103h2v1h-2zM431 104h2v1h-2zM433 105h1v1h-1zM434 106h2v1h-2zM436 107h2v1h-2zM438 108h1v1h-1zM439 109h2v1h-2zM441 110h2v1h-2zM443 111h1v1h-1zM444 112h2v1h-2zM446 113h2v1h-2zM448 114h1v1h-1zM449 115h2v1h-2zM451 116h2v1h-2zM453 117h2v1h-2zM455 118h1v1h-1zM456 119h2v1h-2zM458 120h2v1h-2zM460 121h1v1h-1zM461 122h2v1h-2zM463 123h2v1h-2zM465 124h1v1h-1zM466 125h2v1h-2zM468 126h2v1h-2zM470 127h1v1h-1zM471 128h2v1h-2zM473 129h2v1h-2zM475 130h2v1h-2zM477 131h1v1h-1zM478 132h2v1h-2zM480 133h2v1h-2zM482 134h1v1h-1zM483 135h2v1h-2zM485 136h2v1h-2zM487 137h1v1h-1zM488 138h2v1h-2zM490 139h2v1h-2zM492 140h1v1h-1zM493 141h2v1h-2zM495 142h2v1h-2zM497 143h2v1h-2zM499 144h1v1h-1zM500 145h2v1h-2zM502 146h2v1h-2zM504 147h1v1h-1zM505 148h2v1h-2zM507 149h2v1h-2zM509 150h1v1h-1zM510 151h2v1h-2zM512 152h2v1h-2zM514 153h1v1h-1zM515 154h2v1h-2zM517 155h2v1h-2zM519 156h2v1h-2zM521 157h1v1h-1zM522 158h2v1h-2zM524 159h2v1h-2zM526 160h1v1h-1zM527 161h2v1h-2zM529 162h2v1h-2zM531 163h1v1h-1zM532 164h2v1h-2zM534 165h2v1h-2zM536 166h1v1h-1zM537 167h2v1h-2zM539 168h2v1h-2zM541 169h2v1h-2zM543 170h1v1h-1zM544 171h2v1h-2zM546 172h2v1h-2zM548 173h1v1h-1zM549 174h2v1h-2zM551 175h2v1h-2zM553 176h1v1h-1zM554 177h2v1h-2zM556 178h2v1h-2zM558 179h1v1h-1zM559 180h2v1h-2zM561 181h2v1h-2zM563 182h2v1h-2zM565 183h1v1h-1zM566 184h2v1h-2zM568 185h2v1h-2zM570 186h1v1h-1zM571 187h2v1h-2zM573 188h2v1h-2zM575 189h1v1h-1zM576 190h2v1h-2zM578 191h2v1h-2zM580 192h1v1h-1zM581 193h2v1h-2zM583 194h2v1h-2zM585 195h2v1h-2zM587 196h1v1h-1zM588 197h2v1h-2zM590 198h2v1h-2zM592 199h1v1h-1zM593 200h2v1h-2zM595 201h2v1h-2zM597 202h1v1h-1zM598 203h2v1h-2zM600 204h2v1h-2zM602 205h1v1h-1zM603 206h2v1h-2zM605 207h2v1h-2zM607 208h2v1h-2zM609 209h1v1h-1zM610 210h2v1h-2zM612 211h2v1h-2zM614 212h1v1h-1zM615 213h2v1h-2zM617 214h2v1h-2zM619 215h1v1h-1zM620 216h2v1h-2zM622 217h2v1h-2zM624 218h1v1h-1zM625 219h2v1h-2zM627 220h2v1h-2zM629 221h2v1h-2zM631 222h1v1h-1zM632 223h2v1h-2zM634 224h2v1h-2zM636 225h1v1h-1zM637 226h2v1h-2zM639 227h2v1h-2zM641 228h1v1h-1zM642 229h2v1h-2zM644 230h2v1h-2zM646 231h1v1h-1zM647 232h2v1h-2zM649 233h2v1h-2zM651 234h2v1h-2zM653 235h1v1h-1zM654 236h2v1h-2zM656 237h2v1h-2zM658 238h1v1h-1zM659 239h2v1h-2zM661 240h2v1h-2zM663 241h1v1h-1zM664 242h2v1h-2zM666 243h2v1h-2zM668 244h1v1h-1zM669 245h2v1h-2zM671 246h2v1h-2zM673 247h2v1h-2zM675 248h1v1h-1zM676 249h2v1h-2zM678 250h2v1h-2zM680 251h1v1h-1zM681 252h2v1h-2zM683 253h2v1h-2zM685 254h1v1h-1zM686 255h2v1h-2zM688 256h2v1h-2zM690 257h1v1h-1zM691 258h2v1h-2zM693 259h2v1h-2zM695 260h2v1h-2zM697 261h1v1h-1zM698 262h2v1h-2zM700 263h2v1h-2zM702 264h1v1h-1zM703 265h2v1h-2zM705 266h2v1h-2zM707 267h1v1h-1zM708 268h2v1h-2zM710 269h2v1h-2zM712 270h1v1h-1zM713 271h2v1h-2zM715 272h2v1h-2zM717 273h2v1h-2zM719 274h1v1h-1zM720 275h2v1h-2zM722 276h2v1h-2zM724 277h1v1h-1zM725 278h2v1h-2zM727 279h2v1h-2zM729 280h1v1h-1zM730 281h2v1h-2zM732 282h2v1h-2zM734 283h1v1h-1zM735 284h2v1h-2zM737 285h2v1h-2zM739 286h2v1h-2zM741 287h1v1h-1zM742 288h2v1h-2zM744 289h2v1h-2zM746 290h1v1h-1zM747 291h2v1h-2zM749 292h2v1h-2zM751 293h1v1h-1zM752 294h2v1h-2zM754 295h2v1h-2zM756 296h1v1h-1zM757 297h2v1h-2zM759 298h2v1h-2zM761 299h2v1h-2zM763 300h1v1h-1zM764 301h2v1h-2zM766 302h2v1h-2zM768 303h1v1h-1zM769 304h2v1h-2zM771 305h2v1h-2zM773 306h1v1h-1zM774 307h2v1h-2zM776 308h2v1h-2zM778 309h1v1h-1zM779 310h2v1h-2zM781 311h2v1h-2zM783 312h2v1h-2zM785 313h1v1h-1zM786 314h2v1h-2zM788 315h2v1h-2zM790 316h1v1h-1zM791 317h2v1h-2zM793 318h2v1h-2zM795 319h1v1h-1zM796 320h2v1h-2zM798 321h2v1h-2zM800 322h1v1h-1zM801 323h2v1h-2zM803 324h2v1h-2zM805 325h2v1h-2zM807 326h1v1h-1zM808 327h2v1h-2zM810 328h2v1h-2zM812 329h1v1h-1zM813 330h2v1h-2zM815 331h2v1h-2zM817 332h1v1h-1zM818 333h2v1h-2zM820 334h2v1h-2zM822 335h1v1h-1zM823 336h2v1h-2zM825 337h2v1h-2zM827 338h2v1h-2zM829 339h1v1h-1zM830 340h2v1h-2zM832 341h2v1h-2zM834 342h1v1h-1zM835 343h2v1h-2zM837 344h2v1h-2zM839 345h1v1h-1zM840 346h2v1h-2zM842 347h2v1h-2zM844 348h1v1h-1zM845 349h2v1h-2zM847 350h2v1h-2zM849 351h2v1h-2zM851 352h1v1h-1zM852 353h2v1h-2zM854 354h2v1h-2zM856 355h1v1h-1zM857 356h2v1h-2zM859 357h2v1h-2zM861 358h1v1h-1zM862 359h2v1h-2zM864 360h2v1h-2zM866 361h1v1h-1zM867 362h2v1h-2zM869 363h2v1h-2zM871 364h2v1h-2zM873 365h1v1h-1zM874 366h2v1h-2zM876 367h2v1h-2zM878 368h1v1h-1zM879 369h2v1h-2zM881 370h2v1h-2zM883 371h1v1h-1zM884 372h2v1h-2zM886 373h2v1h-2zM888 374h1v1h-1zM889 375h2v1h-2zM891 376h2v1h-2zM893 377h2v1h-2zM895 378h1v1h-1zM896 379h2v1h-2zM898 380h2v1h-2zM900 381h1v1h-1z" fill="#ffff00" shape-rendering="crispEdges"/>
<path d="M571 33h1v1h-1zM572 34h2v1h-2zM574 35h2v1h-2zM576 36h1v1h-1zM577 37h2v1h-2zM579 38h2v1h-2zM581 39h1v1h-1zM582 40h2v1h-2zM584 41h1v1h-1zM585 42h2v1h-2zM587 43h2v1h-2zM589 44h1v1h-1zM590 45h2v1h-2zM592 46h2v1h-2zM594 47h1v1h-1zM595 48h2v1h-2zM597 49h2v1h-2zM599 50h1v1h-1zM600 51h2v1h-2zM602 52h2v1h-2zM604 53h1v1h-1zM605 54h2v1h-2zM607 55h1v1h-1zM608 56h2v1h-2zM610 57h2v1h-2zM612 58h1v1h-1zM613 59h2v1h-2zM615 60h2v1h-2zM617 61h1v1h-1zM618 62h2v1h-2zM620 63h2v1h-2zM622 64h1v1h-1zM623 65h2v1h-2zM625 66h2v1h-2zM627 67h1v1h-1zM628 68h2v1h-2zM630 69h2v1h-2zM632 70h1v1h-1zM633 71h2v1h-2zM635 72h1v1h-1zM636 73h2v1h-2zM638 74h2v1h-2zM640 75h1v1h-1zM641 76h2v1h-2zM643 77h2v1h-2zM645 78h1v1h-1zM646 79h2v1h-2zM648 80h2v1h-2zM650 81h1v1h-1zM651 82h2v1h-2zM653 83h2v1h-2zM655 84h1v1h-1zM656 85h2v1h-2zM658 86h1v1h-1zM659 87h2v1h-2zM661 88h2v1h-2zM663 89h1v1h-1zM664 90h2v1h-2zM666 91h2v1h-2zM668 92h1v1h-1zM669 93h2v1h-2zM671 94h2v1h-2zM673 95h1v1h-1zM674 96h2v1h-2zM676 97h2v1h-2zM678 98h1v1h-1zM679 99h2v1h-2zM681 100h1v1h-1zM682 101h2v1h-2zM684 102h2v1h-2zM686 103h1v1h-1zM687 104h2v1h-2zM689 105h2v1h-2zM691 106h1v1h-1zM692 107h2v1h-2zM694 108h2v1h-2zM696 109h1v1h-1zM697 110h2v1h-2zM699 111h2v1h-2zM701 112h1v1h-1zM702 113h2v1h-2zM704 114h2v1h-2zM706 115h1v1h-1zM707 116h2v1h-2zM709 117h1v1h-1zM710 118h2v1h-2zM712 119h2v1h-2zM714 120h1v1h-1zM715 121h2v1h-2zM717 122h2v1h-2zM719 123h1v1h-1zM720 124h2v1h-2zM722 125h2v1h-2zM724 126h1v1h-1zM725 127h2v1h-2zM727 128h2v1h-2zM729 129h1v1h-1zM730 130h2v1h-2zM732 131h1v1h-1zM733 132h2v1h-2zM735 133h2v1h-2zM737 134h1v1h-1zM738 135h2v1h-2zM740 136h2v1h-2zM742 137h1v1h-1zM743 138h2v1h-2zM745 139h2v1h-2zM747 140h1v1h-1zM748 141h2v1h-2zM750 142h2v1h-2zM752 143h1v1h-1zM753 144h2v1h-2zM755 145h1v1h-1zM756 146h2v1h-2zM758 147h2v1h-2zM760 148h1v1h-1zM761 149h2v1h-2zM763 150h2v1h-2zM765 151h1v1h-1zM766 152h2v1h-2zM768 153h2v1h-2zM770 154h1v1h-1zM771 155h2v1h-2zM773 156h2v1h-2zM775 157h1v1h-1zM776 158h2v1h-2zM778 159h2v1h-2zM780 160h1v1h-1zM781 161h2v1h-2zM783 162h1v1h-1zM784 163h2v1h-2zM786 164h2v1h-2zM788 165h1v1h-1zM789 166h2v1h-2zM791 167h2v1h-2zM793 168h1v1h-1zM794 169h2v1h-2zM796 170h2v1h-2zM798 171h1v1h-1zM799 172h2v1h-2zM801 173h2v1h-2zM803 174h1v1h-1zM804 175h2v1h-2zM806 176h1v1h-1zM807 177h2v1h-2zM809 178h2v1h-2zM811 179h1v1h-1zM812 180h2v1h-2zM814 181h2v1h-2zM816 182h1v1h-1zM817 183h2v1h-2zM819 184h2v1h-2zM821 185h1v1h-1zM822 186h2v1h-2zM824 187h2v1h-2zM826 188h1v1h-1zM827 189h2v1h-2zM829 190h1v1h-1zM830 191h2v1h-2zM832 192h2v1h-2zM834 193h1v1h-1zM835 194h2v1h-2zM837 195h2v1h-2zM839 196h1v1h-1zM840 197h2v1h-2zM842 198h2v1h-2zM844 199h1v1h-1zM845 200h2v1h-2zM847 201h2v1h-2zM849 202h1v1h-1zM850 203h2v1h-2zM852 204h2v1h-2zM854 205h1v1h-1zM855 206h2v1h-2zM857 207h1v1h-1zM858 208h2v1h-2zM860 209h2v1h-2zM862 210h1v1h-1zM863 211h2v1h-2zM865 212h2v1h-2zM867 213h1v1h-1zM868 214h2v1h-2zM870 215h2v1h-2zM872 216h1v1h-1zM873 217h2v1h-2zM875 218h2v1h-2zM877 219h1v1h-1zM878 220h2v1h-2zM880 221h1v1h-1zM881 222h2v1h-2zM883 223h2v1h-2zM885 224h1v1h-1zM886 225h2v1h-2zM888 226h2v1h-2zM890 227h1v1h-1zM891 228h2v1h-2zM893 229h2v1h-2zM895 230h1v1h-1zM896 231h2v1h-2zM898 232h2v1h-2zM900 233h1v1h-1zM901 234h2v1h-2zM903 235h1v1h-1zM904 236h2v1h-2zM906 237h2v1h-2zM908 238h1v1h-1zM909 239h2v1h-2zM911 240h2v1h-2zM913 241h1v1h-1zM914 242h2v1h-2zM916 243h2v1h-2zM918 244h1v1h-1zM919 245h2v1h-2zM921 246h2v1h-2zM923 247h1v1h-1zM924 248h2v1h-2zM926 249h2v1h-2zM928 250h1v1h-1zM929 251h2v1h-2zM931 252h1v1h-1zM932 253h2v1h-2zM934 254h2v1h-2zM936 255h1v1h-1zM937 256h2v1h-2zM939 257h2v1h-2zM941 258h1v1h-1zM942 259h2v1h-2zM944 260h2v1h-2zM946 261h1v1h-1zM947 262h2v1h-2zM949 263h2v1h-2zM951 264h1v1h-1zM952 265h2v1h-2zM954 266h1v1h-1zM955 267h2v1h-2zM957 268h2v1h-2zM959 269h1v1h-1zM960 270h2v1h-2zM962 271h2v1h-2zM964 272h1v1h-1zM965 273h2v1h-2zM967 274h2v1h-2zM969 275h1v1h-1zM970 276h2v1h-2zM972 277h2v1h-2zM974 278h1v1h-1zM975 279h2v1h-2zM977 280h1v1h-1zM978 281h2v1h-2zM980 282h2v1h-2zM982 283h1v1h-1zM983 284h2v1h-2zM985 285h2v1h-2zM987 286h1v1h-1zM988 287h2v1h-2zM990 288h2v1h-2zM992 289h1v1h-1zM993 290h2v1h-2zM995 291h2v1h-2zM997 292h1v1h-1zM998 293h2v1h-2zM1000 294h2v1h-2zM1002 295h1v1h-1zM1003 296h2v1h-2zM1005 297h1v1h-1zM1006 298h2v1h-2zM1008 299h2v1h-2zM1010 300h1v1h-1zM1011 301h2v1h-2zM1013 302h2v1h-2zM1015 303h1v1h-1zM1016 304h2v1h-2zM1018 305h2v1h-2zM1020 306h1v1h-1zM1021 307h2v1h-2zM1023 308h2v1h-2zM1025 309h1v1h-1zM1026 310h2v1h-2zM1028 311h1v1h-1zM1029 312h2v1h-2zM1031 313h2v1h-2zM1033 314h1v1h-1zM1034 315h2v1h-2zM1036 316h2v1h-2zM1038 317h1v1h-1zM1039 318h2v1h-2zM1041 319h2v1h-2zM1043 320h1v1h-1zM1044 321h2v1h-2zM1046 322h2v1h-2zM1048 323h1v1h-1zM1049 324h2v1h-2zM1051 325h1v1h-1zM1052 326h2v1h-2zM1054 327h2v1h-2zM1056 328h1v1h-1zM1057 329h2v1h-2zM1059 330h2v1h-2zM1061 331h1v1h-1zM1062 332h2v1h-2zM1064 333h2v1h-2zM1066 334h1v1h-1zM1067 335h2v1h-2zM1069 336h2v1h-2zM1071 337h1v1h-1zM1072 338h2v1h-2zM1074 339h2v1h-2zM1076 340h1v1h-1zM1077 341h2v1h-2zM1079 342h1v1h-1zM1080 343h2v1h-2zM1082 344h2v1h-2zM1084 345h1v1h-1zM1085 346h2v1h-2zM1087 347h2v1h-2zM1089 348h1v1h-1z" fill="#00f4f4" shape-rendering="crispEdges"/>
<rect x="285" y="17" width="1" height="1" fill="#ffff00"/>
<line x1="1020.5" y1="373" x2="1020.5" y2="382" stroke="#909090" stroke-width="1" shape-rendering="crispEdges"/>
<line x1="1020.5" y1="471" x2="1020.5" y2="480" stroke="#909090" stroke-width="1" shape-rendering="crispEdges"/>
<line x1="1020.5" y1="560" x2="1020.5" y2="569" stroke="#909090" stroke-width="1" shape-rendering="crispEdges"/>
<rect x="57" y="449" width="1" height="25" fill="#00f4f4"/>
<rect x="68" y="449" width="1" height="27" fill="#00f4f4"/>
<rect x="79" y="449" width="1" height="27" fill="#00f4f4"/>
<rect x="90" y="449" width="1" height="24" fill="#00f4f4"/>
<rect x="101" y="449" width="1" height="24" fill="#00f4f4"/>
<rect x="112" y="449" width="1" height="11" fill="#00f4f4"/>
<rect x="123" y="449" width="1" height="3" fill="#00f4f4"/>
<rect x="145" y="446" width="1" height="4" fill="#ff3c3c"/>
<rect x="156" y="443" width="1" height="7" fill="#ff3c3c"/>
<rect x="167" y="446" width="1" height="4" fill="#ff3c3c"/>
<rect x="189" y="449" width="1" height="6" fill="#00f4f4"/>
<rect x="200" y="449" width="1" height="6" fill="#00f4f4"/>
<rect x="211" y="449" width="1" height="1" fill="#00f4f4"/>
<rect x="222" y="448" width="1" height="2" fill="#ff3c3c"/>
<rect x="233" y="449" width="1" height="5" fill="#00f4f4"/>
<rect x="244" y="449" width="1" height="6" fill="#00f4f4"/>
<rect x="255" y="449" width="1" height="9" fill="#00f4f4"/>
<rect x="266" y="449" width="1" height="11" fill="#00f4f4"/>
<rect x="277" y="449" width="1" height="15" fill="#00f4f4"/>
<rect x="288" y="449" width="1" height="19" fill="#00f4f4"/>
<rect x="299" y="449" width="1" height="21" fill="#00f4f4"/>
<rect x="310" y="449" width="1" height="22" fill="#00f4f4"/>
<rect x="321" y="449" width="1" height="16" fill="#00f4f4"/>
<rect x="332" y="449" width="1" height="10" fill="#00f4f4"/>
<rect x="343" y="449" width="1" height="8" fill="#00f4f4"/>
<rect x="354" y="449" width="1" height="8" fill="#00f4f4"/>
<rect x="365" y="449" width="1" height="3" fill="#00f4f4"/>
<rect x="376" y="448" width="1" height="2" fill="#ff3c3c"/>
<rect x="387" y="446" width="1" height="4" fill="#ff3c3c"/>
<rect x="398" y="449" width="1" height="2" fill="#00f4f4"/>
<rect x="409" y="449" width="1" height="4" fill="#00f4f4"/>
<rect x="420" y="449" width="1" height="5" fill="#00f4f4"/>
<rect x="431" y="449" width="1" height="10" fill="#00f4f4"/>
<rect x="442" y="449" width="1" height="7" fill="#00f4f4"/>
<rect x="453" y="449" width="1" height="6" fill="#00f4f4"/>
<rect x="464" y="449" width="1" height="8" fill="#00f4f4"/>
<rect x="475" y="449" width="1" height="8" fill="#00f4f4"/>
<rect x="486" y="449" width="1" height="6" fill="#00f4f4"/>
<rect x="508" y="446" width="1" height="4" fill="#ff3c3c"/>
<rect x="519" y="442" width="1" height="8" fill="#ff3c3c"/>
<rect x="530" y="442" width="1" height="8" fill="#ff3c3c"/>
<rect x="541" y="443" width="1" height="7" fill="#ff3c3c"/>
<rect x="552" y="440" width="1" height="10" fill="#ff3c3c"/>
<rect x="563" y="432" width="1" height="18" fill="#ff3c3c"/>
<rect x="574" y="428" width="1" height="22" fill="#ff3c3c"/>
<rect x="585" y="424" width="1" height="26" fill="#ff3c3c"/>
<rect x="596" y="422" width="1" height="28" fill="#ff3c3c"/>
<rect x="607" y="425" width="1" height="25" fill="#ff3c3c"/>
<rect x="618" y="432" width="1" height="18" fill="#ff3c3c"/>
<rect x="629" y="441" width="1" height="9" fill="#ff3c3c"/>
<rect x="640" y="449" width="1" height="3" fill="#00f4f4"/>
<rect x="651" y="449" width="1" height="13" fill="#00f4f4"/>
<rect x="662" y="449" width="1" height="13" fill="#00f4f4"/>
<rect x="673" y="449" width="1" height="18" fill="#00f4f4"/>
<rect x="684" y="449" width="1" height="24" fill="#00f4f4"/>
<rect x="695" y="449" width="1" height="27" fill="#00f4f4"/>
<rect x="706" y="449" width="1" height="29" fill="#00f4f4"/>
<rect x="717" y="449" width="1" height="29" fill="#00f4f4"/>
<rect x="728" y="449" width="1" height="23" fill="#00f4f4"/>
<rect x="739" y="449" width="1" height="18" fill="#00f4f4"/>
<rect x="750" y="449" width="1" height="11" fill="#00f4f4"/>
<rect x="761" y="449" width="1" height="9" fill="#00f4f4"/>
<rect x="772" y="449" width="1" height="8" fill="#00f4f4"/>
<rect x="783" y="449" width="1" height="4" fill="#00f4f4"/>
<rect x="794" y="449" width="1" height="3" fill="#00f4f4"/>
<rect x="805" y="449" width="1" height="3" fill="#00f4f4"/>
<rect x="816" y="449" width="1" height="5" fill="#00f4f4"/>
<rect x="827" y="449" width="1" height="9" fill="#00f4f4"/>
<rect x="838" y="449" width="1" height="7" fill="#00f4f4"/>
<rect x="849" y="449" width="1" height="9" fill="#00f4f4"/>
<rect x="860" y="449" width="1" height="10" fill="#00f4f4"/>
<rect x="871" y="449" width="1" height="10" fill="#00f4f4"/>
<rect x="882" y="449" width="1" height="15" fill="#00f4f4"/>
<rect x="893" y="449" width="1" height="15" fill="#00f4f4"/>
<rect x="904" y="449" width="1" height="13" fill="#00f4f4"/>
<rect x="915" y="449" width="1" height="11" fill="#00f4f4"/>
<rect x="926" y="449" width="1" height="9" fill="#00f4f4"/>
<rect x="948" y="443" width="1" height="7" fill="#ff3c3c"/>
<rect x="959" y="437" width="1" height="13" fill="#ff3c3c"/>
<rect x="970" y="432" width="1" height="18" fill="#ff3c3c"/>
<rect x="981" y="424" width="1" height="26" fill="#ff3c3c"/>
<rect x="992" y="423" width="1" height="27" fill="#ff3c3c"/>
<rect x="1003" y="425" width="1" height="25" fill="#ff3c3c"/>
<rect x="1014" y="426" width="1" height="24" fill="#ff3c3c"/>
<rect x="1025" y="428" width="1" height="22" fill="#ff3c3c"/>
<path d="M57 401h2v1h-2zM59 402h4v1h-4zM63 403h3v1h-3zM66 404h4v1h-4zM70 405h4v1h-4zM74 406h3v1h-3zM77 407h4v1h-4zM81 408h3v1h-3zM84 409h4v1h-4zM88 410h4v1h-4zM92 411h3v1h-3zM95 412h4v1h-4zM99 413h6v1h-6zM165 413h17v1h-17zM105 414h8v1h-8zM148 414h17v1h-17zM182 414h12v1h-12zM211 414h15v1h-15zM113 415h8v1h-8zM133 415h15v1h-15zM194 415h17v1h-17zM226 415h7v1h-7zM121 416h12v1h-12zM233 416h7v1h-7zM240 417h7v1h-7zM247 418h10v1h-10zM257 419h10v1h-10zM624 419h11v1h-11zM267 420h5v1h-5zM616 420h8v1h-8zM635 420h11v1h-11zM272 421h5v1h-5zM610 421h6v1h-6zM646 421h8v1h-8zM277 422h5v1h-5zM606 422h4v1h-4zM654 422h6v1h-6zM282 423h5v1h-5zM602 423h4v1h-4zM660 423h5v1h-5zM287 424h5v1h-5zM598 424h4v1h-4zM665 424h6v1h-6zM292 425h4v1h-4zM595 425h3v1h-3zM671 425h4v1h-4zM296 426h4v1h-4zM591 426h4v1h-4zM675 426h4v1h-4zM300 427h4v1h-4zM587 427h4v1h-4zM679 427h4v1h-4zM304 428h4v1h-4zM584 428h3v1h-3zM683 428h3v1h-3zM308 429h4v1h-4zM580 429h4v1h-4zM686 429h4v1h-4zM312 430h6v1h-6zM576 430h4v1h-4zM690 430h4v1h-4zM318 431h6v1h-6zM573 431h3v1h-3zM694 431h3v1h-3zM324 432h6v1h-6zM569 432h4v1h-4zM697 432h3v1h-3zM330 433h6v1h-6zM565 433h4v1h-4zM700 433h2v1h-2zM336 434h16v1h-16zM375 434h20v1h-20zM561 434h4v1h-4zM702 434h3v1h-3zM352 435h23v1h-23zM395 435h20v1h-20zM555 435h6v1h-6zM705 435h3v1h-3zM415 436h16v1h-16zM550 436h5v1h-5zM708 436h3v1h-3zM431 437h8v1h-8zM544 437h6v1h-6zM711 437h2v1h-2zM439 438h8v1h-8zM534 438h10v1h-10zM713 438h3v1h-3zM447 439h9v1h-9zM520 439h14v1h-14zM716 439h3v1h-3zM456 440h8v1h-8zM508 440h12v1h-12zM719 440h4v1h-4zM464 441h8v1h-8zM495 441h13v1h-13zM723 441h4v1h-4zM472 442h23v1h-23zM727 442h4v1h-4zM731 443h6v1h-6zM737 444h5v1h-5zM1023 444h3v1h-3zM742 445h6v1h-6zM1017 445h6v1h-6zM748 446h8v1h-8zM1013 446h4v1h-4zM756 447h11v1h-11zM1009 447h4v1h-4zM767 448h11v1h-11zM1005 448h4v1h-4zM778 449h20v1h-20zM1002 449h3v1h-3zM798 450h32v1h-32zM999 450h3v1h-3zM830 451h11v1h-11zM997 451h2v1h-2zM841 452h6v1h-6zM994 452h3v1h-3zM847 453h8v1h-8zM991 453h3v1h-3zM855 454h8v1h-8zM987 454h4v1h-4zM863 455h6v1h-6zM983 455h4v1h-4zM869 456h8v1h-8zM980 456h3v1h-3zM877 457h8v1h-8zM976 457h4v1h-4zM885 458h6v1h-6zM972 458h4v1h-4zM891 459h5v1h-5zM968 459h4v1h-4zM896 460h6v1h-6zM962 460h6v1h-6zM902 461h5v1h-5zM957 461h5v1h-5zM907 462h6v1h-6zM951 462h6v1h-6zM913 463h8v1h-8zM943 463h8v1h-8zM921 464h22v1h-22z" fill="#ffff00" shape-rendering="crispEdges"/>
<path d="M605 410h8v1h-8zM153 411h19v1h-19zM599 411h6v1h-6zM613 411h7v1h-7zM148 412h5v1h-5zM172 412h3v1h-3zM595 412h4v1h-4zM620 412h2v1h-2zM143 413h5v1h-5zM175 413h3v1h-3zM592 413h3v1h-3zM622 413h2v1h-2zM57 414h2v1h-2zM138 414h5v1h-5zM178 414h3v1h-3zM220 414h4v1h-4zM590 414h2v1h-2zM624 414h2v1h-2zM59 415h4v1h-4zM133 415h5v1h-5zM181 415h3v1h-3zM215 415h5v1h-5zM224 415h3v1h-3zM587 415h3v1h-3zM626 415h2v1h-2zM63 416h3v1h-3zM128 416h5v1h-5zM184 416h5v1h-5zM209 416h6v1h-6zM227 416h4v1h-4zM584 416h3v1h-3zM628 416h2v1h-2zM66 417h4v1h-4zM124 417h4v1h-4zM189 417h8v1h-8zM203 417h6v1h-6zM231 417h3v1h-3zM582 417h2v1h-2zM630 417h2v1h-2zM70 418h4v1h-4zM122 418h2v1h-2zM197 418h6v1h-6zM234 418h4v1h-4zM580 418h2v1h-2zM632 418h2v1h-2zM74 419h3v1h-3zM119 419h3v1h-3zM238 419h5v1h-5zM578 419h2v1h-2zM634 419h2v1h-2zM77 420h4v1h-4zM116 420h3v1h-3zM243 420h5v1h-5zM576 420h2v1h-2zM636 420h2v1h-2zM81 421h4v1h-4zM114 421h2v1h-2zM248 421h5v1h-5zM573 421h3v1h-3zM638 421h2v1h-2zM85 422h3v1h-3zM111 422h3v1h-3zM253 422h4v1h-4zM571 422h2v1h-2zM640 422h1v1h-1zM88 423h4v1h-4zM108 423h3v1h-3zM257 423h5v1h-5zM569 423h2v1h-2zM641 423h2v1h-2zM92 424h4v1h-4zM106 424h2v1h-2zM262 424h4v1h-4zM567 424h2v1h-2zM643 424h2v1h-2zM96 425h4v1h-4zM103 425h3v1h-3zM266 425h3v1h-3zM565 425h2v1h-2zM645 425h2v1h-2zM100 426h3v1h-3zM269 426h3v1h-3zM563 426h2v1h-2zM647 426h2v1h-2zM272 427h3v1h-3zM561 427h2v1h-2zM649 427h2v1h-2zM275 428h3v1h-3zM559 428h2v1h-2zM651 428h6v1h-6zM278 429h2v1h-2zM557 429h2v1h-2zM657 429h6v1h-6zM280 430h2v1h-2zM555 430h2v1h-2zM663 430h2v1h-2zM282 431h2v1h-2zM553 431h2v1h-2zM665 431h2v1h-2zM284 432h2v1h-2zM550 432h3v1h-3zM667 432h2v1h-2zM286 433h2v1h-2zM384 433h5v1h-5zM546 433h4v1h-4zM669 433h2v1h-2zM1023 433h3v1h-3zM288 434h3v1h-3zM378 434h6v1h-6zM389 434h6v1h-6zM542 434h4v1h-4zM671 434h2v1h-2zM1017 434h6v1h-6zM291 435h2v1h-2zM372 435h6v1h-6zM395 435h6v1h-6zM525 435h17v1h-17zM673 435h2v1h-2zM1009 435h8v1h-8zM293 436h2v1h-2zM367 436h5v1h-5zM401 436h6v1h-6zM517 436h8v1h-8zM675 436h2v1h-2zM1002 436h7v1h-7zM295 437h3v1h-3zM362 437h5v1h-5zM407 437h5v1h-5zM511 437h6v1h-6zM677 437h2v1h-2zM998 437h4v1h-4zM298 438h2v1h-2zM323 438h24v1h-24zM357 438h5v1h-5zM412 438h5v1h-5zM507 438h4v1h-4zM679 438h2v1h-2zM994 438h4v1h-4zM300 439h6v1h-6zM315 439h8v1h-8zM347 439h10v1h-10zM417 439h4v1h-4zM504 439h3v1h-3zM681 439h2v1h-2zM991 439h3v1h-3zM306 440h9v1h-9zM421 440h4v1h-4zM502 440h2v1h-2zM683 440h3v1h-3zM988 440h3v1h-3zM425 441h4v1h-4zM499 441h3v1h-3zM686 441h2v1h-2zM986 441h2v1h-2zM429 442h12v1h-12zM496 442h3v1h-3zM688 442h2v1h-2zM983 442h3v1h-3zM441 443h15v1h-15zM492 443h4v1h-4zM690 443h2v1h-2zM981 443h2v1h-2zM456 444h9v1h-9zM488 444h4v1h-4zM692 444h2v1h-2zM979 444h2v1h-2zM465 445h23v1h-23zM694 445h3v1h-3zM977 445h2v1h-2zM697 446h2v1h-2zM975 446h2v1h-2zM699 447h2v1h-2zM973 447h2v1h-2zM701 448h2v1h-2zM971 448h2v1h-2zM703 449h2v1h-2zM789 449h7v1h-7zM969 449h2v1h-2zM705 450h3v1h-3zM781 450h8v1h-8zM796 450h4v1h-4zM967 450h2v1h-2zM708 451h4v1h-4zM748 451h19v1h-19zM775 451h6v1h-6zM800 451h5v1h-5zM965 451h2v1h-2zM712 452h4v1h-4zM742 452h6v1h-6zM767 452h8v1h-8zM805 452h5v1h-5zM963 452h2v1h-2zM716 453h26v1h-26zM810 453h5v1h-5zM961 453h2v1h-2zM815 454h5v1h-5zM958 454h3v1h-3zM820 455h6v1h-6zM955 455h3v1h-3zM826 456h8v1h-8zM953 456h2v1h-2zM834 457h10v1h-10zM950 457h3v1h-3zM844 458h11v1h-11zM948 458h2v1h-2zM855 459h7v1h-7zM946 459h2v1h-2zM862 460h4v1h-4zM944 460h2v1h-2zM866 461h4v1h-4zM942 461h2v1h-2zM870 462h3v1h-3zM940 462h2v1h-2zM873 463h3v1h-3zM938 463h2v1h-2zM876 464h2v1h-2zM936 464h2v1h-2zM878 465h3v1h-3zM933 465h3v1h-3zM881 466h7v1h-7zM931 466h2v1h-2zM888 467h8v1h-8zM928 467h3v1h-3zM896 468h6v1h-6zM921 468h7v1h-7zM902 469h19v1h-19z" fill="#ffffff" shape-rendering="crispEdges"/>
<path d="M591 515h19v1h-19zM580 516h11v1h-11zM610 516h6v1h-6zM572 517h8v1h-8zM616 517h4v1h-4zM1020 517h6v1h-6zM566 518h6v1h-6zM620 518h4v1h-4zM1009 518h11v1h-11zM562 519h4v1h-4zM624 519h4v1h-4zM1001 519h8v1h-8zM558 520h4v1h-4zM628 520h3v1h-3zM995 520h6v1h-6zM554 521h4v1h-4zM631 521h2v1h-2zM990 521h5v1h-5zM550 522h4v1h-4zM633 522h2v1h-2zM984 522h6v1h-6zM162 523h22v1h-22zM217 523h8v1h-8zM544 523h6v1h-6zM635 523h2v1h-2zM980 523h4v1h-4zM155 524h7v1h-7zM184 524h11v1h-11zM206 524h11v1h-11zM225 524h6v1h-6zM540 524h4v1h-4zM637 524h2v1h-2zM977 524h3v1h-3zM152 525h3v1h-3zM195 525h11v1h-11zM231 525h5v1h-5zM536 525h4v1h-4zM639 525h2v1h-2zM975 525h2v1h-2zM150 526h2v1h-2zM236 526h6v1h-6zM532 526h4v1h-4zM641 526h2v1h-2zM972 526h3v1h-3zM147 527h3v1h-3zM242 527h4v1h-4zM385 527h5v1h-5zM529 527h3v1h-3zM643 527h2v1h-2zM969 527h3v1h-3zM144 528h3v1h-3zM246 528h4v1h-4zM379 528h6v1h-6zM390 528h6v1h-6zM525 528h4v1h-4zM645 528h2v1h-2zM966 528h3v1h-3zM141 529h3v1h-3zM250 529h4v1h-4zM375 529h4v1h-4zM396 529h8v1h-8zM521 529h4v1h-4zM647 529h2v1h-2zM964 529h2v1h-2zM139 530h2v1h-2zM254 530h3v1h-3zM371 530h4v1h-4zM404 530h7v1h-7zM518 530h3v1h-3zM649 530h2v1h-2zM961 530h3v1h-3zM136 531h3v1h-3zM257 531h3v1h-3zM367 531h4v1h-4zM411 531h4v1h-4zM515 531h3v1h-3zM651 531h2v1h-2zM958 531h3v1h-3zM133 532h3v1h-3zM260 532h2v1h-2zM364 532h3v1h-3zM415 532h4v1h-4zM513 532h2v1h-2zM653 532h3v1h-3zM956 532h2v1h-2zM130 533h3v1h-3zM262 533h3v1h-3zM361 533h3v1h-3zM419 533h3v1h-3zM510 533h3v1h-3zM656 533h2v1h-2zM800 533h8v1h-8zM954 533h2v1h-2zM128 534h2v1h-2zM265 534h3v1h-3zM359 534h2v1h-2zM422 534h3v1h-3zM507 534h3v1h-3zM658 534h3v1h-3zM792 534h8v1h-8zM808 534h6v1h-6zM952 534h2v1h-2zM125 535h3v1h-3zM268 535h4v1h-4zM356 535h3v1h-3zM425 535h2v1h-2zM504 535h3v1h-3zM661 535h3v1h-3zM786 535h6v1h-6zM814 535h5v1h-5zM950 535h2v1h-2zM122 536h3v1h-3zM272 536h4v1h-4zM352 536h4v1h-4zM427 536h3v1h-3zM502 536h2v1h-2zM664 536h3v1h-3zM782 536h4v1h-4zM819 536h6v1h-6zM948 536h2v1h-2zM120 537h2v1h-2zM276 537h3v1h-3zM346 537h6v1h-6zM430 537h4v1h-4zM499 537h3v1h-3zM667 537h2v1h-2zM778 537h4v1h-4zM825 537h5v1h-5zM946 537h2v1h-2zM118 538h2v1h-2zM279 538h3v1h-3zM342 538h4v1h-4zM434 538h6v1h-6zM496 538h3v1h-3zM669 538h3v1h-3zM774 538h4v1h-4zM830 538h6v1h-6zM944 538h2v1h-2zM116 539h2v1h-2zM282 539h2v1h-2zM338 539h4v1h-4zM440 539h8v1h-8zM494 539h2v1h-2zM672 539h3v1h-3zM770 539h4v1h-4zM836 539h5v1h-5zM942 539h2v1h-2zM57 540h2v1h-2zM114 540h2v1h-2zM284 540h3v1h-3zM334 540h4v1h-4zM448 540h8v1h-8zM492 540h2v1h-2zM675 540h3v1h-3zM764 540h6v1h-6zM841 540h6v1h-6zM940 540h2v1h-2zM59 541h4v1h-4zM111 541h3v1h-3zM287 541h3v1h-3zM331 541h3v1h-3zM456 541h6v1h-6zM490 541h2v1h-2zM678 541h2v1h-2zM760 541h4v1h-4zM847 541h5v1h-5zM938 541h2v1h-2zM63 542h4v1h-4zM108 542h3v1h-3zM290 542h4v1h-4zM327 542h4v1h-4zM462 542h5v1h-5zM488 542h2v1h-2zM680 542h3v1h-3zM756 542h4v1h-4zM852 542h6v1h-6zM936 542h2v1h-2zM67 543h4v1h-4zM106 543h2v1h-2zM294 543h4v1h-4zM323 543h4v1h-4zM467 543h6v1h-6zM481 543h7v1h-7zM683 543h3v1h-3zM752 543h4v1h-4zM858 543h5v1h-5zM933 543h3v1h-3zM71 544h6v1h-6zM103 544h3v1h-3zM298 544h4v1h-4zM319 544h4v1h-4zM473 544h8v1h-8zM686 544h3v1h-3zM749 544h3v1h-3zM863 544h6v1h-6zM931 544h2v1h-2zM77 545h26v1h-26zM302 545h6v1h-6zM313 545h6v1h-6zM689 545h2v1h-2zM746 545h3v1h-3zM869 545h5v1h-5zM928 545h3v1h-3zM308 546h5v1h-5zM691 546h3v1h-3zM744 546h2v1h-2zM874 546h6v1h-6zM925 546h3v1h-3zM694 547h4v1h-4zM741 547h3v1h-3zM880 547h5v1h-5zM921 547h4v1h-4zM698 548h6v1h-6zM737 548h4v1h-4zM885 548h6v1h-6zM917 548h4v1h-4zM704 549h5v1h-5zM731 549h6v1h-6zM891 549h8v1h-8zM910 549h7v1h-7zM709 550h6v1h-6zM723 550h8v1h-8zM899 550h11v1h-11zM715 551h8v1h-8z" fill="#ffff00" shape-rendering="crispEdges"/>
<path d="M583 512h8v1h-8zM577 513h6v1h-6zM591 513h8v1h-8zM561 514h16v1h-16zM599 514h6v1h-6zM555 515h6v1h-6zM605 515h4v1h-4zM980 515h18v1h-18zM551 516h4v1h-4zM609 516h2v1h-2zM976 516h4v1h-4zM998 516h28v1h-28zM155 517h4v1h-4zM549 517h2v1h-2zM611 517h2v1h-2zM972 517h4v1h-4zM151 518h4v1h-4zM159 518h6v1h-6zM547 518h2v1h-2zM613 518h2v1h-2zM969 518h3v1h-3zM147 519h4v1h-4zM165 519h4v1h-4zM545 519h2v1h-2zM615 519h2v1h-2zM965 519h4v1h-4zM144 520h3v1h-3zM169 520h3v1h-3zM525 520h11v1h-11zM543 520h2v1h-2zM617 520h2v1h-2zM961 520h4v1h-4zM141 521h3v1h-3zM172 521h2v1h-2zM518 521h7v1h-7zM536 521h7v1h-7zM619 521h2v1h-2zM958 521h3v1h-3zM139 522h2v1h-2zM174 522h3v1h-3zM217 522h6v1h-6zM382 522h6v1h-6zM515 522h3v1h-3zM621 522h2v1h-2zM955 522h3v1h-3zM136 523h3v1h-3zM177 523h3v1h-3zM210 523h7v1h-7zM223 523h2v1h-2zM375 523h7v1h-7zM388 523h1v1h-1zM513 523h2v1h-2zM623 523h2v1h-2zM953 523h2v1h-2zM133 524h3v1h-3zM180 524h3v1h-3zM207 524h3v1h-3zM225 524h1v1h-1zM372 524h3v1h-3zM389 524h2v1h-2zM510 524h3v1h-3zM625 524h2v1h-2zM950 524h3v1h-3zM129 525h4v1h-4zM183 525h2v1h-2zM205 525h2v1h-2zM226 525h1v1h-1zM370 525h2v1h-2zM391 525h1v1h-1zM507 525h3v1h-3zM627 525h2v1h-2zM948 525h2v1h-2zM125 526h4v1h-4zM185 526h3v1h-3zM202 526h3v1h-3zM227 526h2v1h-2zM367 526h3v1h-3zM392 526h1v1h-1zM505 526h2v1h-2zM629 526h1v1h-1zM946 526h2v1h-2zM122 527h3v1h-3zM188 527h14v1h-14zM229 527h1v1h-1zM364 527h3v1h-3zM393 527h1v1h-1zM503 527h2v1h-2zM630 527h1v1h-1zM945 527h1v1h-1zM120 528h2v1h-2zM230 528h1v1h-1zM362 528h2v1h-2zM394 528h1v1h-1zM501 528h2v1h-2zM631 528h1v1h-1zM943 528h2v1h-2zM118 529h2v1h-2zM231 529h2v1h-2zM360 529h2v1h-2zM395 529h2v1h-2zM499 529h2v1h-2zM632 529h1v1h-1zM941 529h2v1h-2zM116 530h2v1h-2zM233 530h6v1h-6zM358 530h2v1h-2zM397 530h1v1h-1zM497 530h2v1h-2zM633 530h1v1h-1zM782 530h7v1h-7zM940 530h1v1h-1zM114 531h2v1h-2zM239 531h7v1h-7zM356 531h2v1h-2zM398 531h2v1h-2zM496 531h1v1h-1zM634 531h2v1h-2zM780 531h2v1h-2zM789 531h11v1h-11zM938 531h2v1h-2zM112 532h2v1h-2zM246 532h2v1h-2zM341 532h15v1h-15zM400 532h3v1h-3zM495 532h1v1h-1zM636 532h1v1h-1zM778 532h2v1h-2zM800 532h6v1h-6zM937 532h1v1h-1zM111 533h1v1h-1zM248 533h2v1h-2zM335 533h6v1h-6zM403 533h2v1h-2zM494 533h1v1h-1zM637 533h1v1h-1zM776 533h2v1h-2zM806 533h2v1h-2zM936 533h1v1h-1zM110 534h1v1h-1zM250 534h2v1h-2zM332 534h3v1h-3zM405 534h3v1h-3zM493 534h1v1h-1zM638 534h1v1h-1zM756 534h11v1h-11zM774 534h2v1h-2zM808 534h2v1h-2zM935 534h1v1h-1zM109 535h1v1h-1zM252 535h2v1h-2zM330 535h2v1h-2zM408 535h3v1h-3zM492 535h1v1h-1zM639 535h1v1h-1zM750 535h6v1h-6zM767 535h7v1h-7zM810 535h2v1h-2zM934 535h1v1h-1zM109 536h1v1h-1zM254 536h3v1h-3zM329 536h1v1h-1zM411 536h2v1h-2zM492 536h1v1h-1zM640 536h1v1h-1zM748 536h2v1h-2zM812 536h2v1h-2zM934 536h1v1h-1zM108 537h1v1h-1zM257 537h2v1h-2zM327 537h2v1h-2zM413 537h2v1h-2zM491 537h1v1h-1zM641 537h2v1h-2zM747 537h1v1h-1zM814 537h2v1h-2zM933 537h1v1h-1zM107 538h1v1h-1zM259 538h2v1h-2zM325 538h2v1h-2zM415 538h2v1h-2zM490 538h1v1h-1zM643 538h1v1h-1zM746 538h1v1h-1zM816 538h1v1h-1zM932 538h1v1h-1zM106 539h1v1h-1zM261 539h2v1h-2zM324 539h1v1h-1zM417 539h2v1h-2zM489 539h1v1h-1zM644 539h2v1h-2zM744 539h2v1h-2zM817 539h2v1h-2zM931 539h1v1h-1zM105 540h1v1h-1zM263 540h2v1h-2zM322 540h2v1h-2zM419 540h2v1h-2zM488 540h1v1h-1zM646 540h2v1h-2zM743 540h1v1h-1zM819 540h2v1h-2zM930 540h1v1h-1zM104 541h1v1h-1zM265 541h3v1h-3zM321 541h1v1h-1zM421 541h2v1h-2zM487 541h1v1h-1zM648 541h1v1h-1zM742 541h1v1h-1zM821 541h2v1h-2zM929 541h1v1h-1zM104 542h1v1h-1zM268 542h4v1h-4zM320 542h1v1h-1zM423 542h2v1h-2zM448 542h7v1h-7zM485 542h2v1h-2zM649 542h2v1h-2zM740 542h2v1h-2zM823 542h2v1h-2zM836 542h4v1h-4zM929 542h1v1h-1zM103 543h1v1h-1zM272 543h4v1h-4zM318 543h2v1h-2zM425 543h2v1h-2zM441 543h7v1h-7zM455 543h3v1h-3zM482 543h3v1h-3zM651 543h13v1h-13zM739 543h1v1h-1zM825 543h2v1h-2zM830 543h6v1h-6zM840 543h3v1h-3zM928 543h1v1h-1zM90 544h6v1h-6zM102 544h1v1h-1zM276 544h3v1h-3zM317 544h1v1h-1zM427 544h2v1h-2zM437 544h4v1h-4zM458 544h2v1h-2zM480 544h2v1h-2zM664 544h3v1h-3zM737 544h2v1h-2zM827 544h3v1h-3zM843 544h2v1h-2zM927 544h1v1h-1zM88 545h2v1h-2zM96 545h6v1h-6zM279 545h2v1h-2zM316 545h1v1h-1zM429 545h2v1h-2zM433 545h4v1h-4zM460 545h3v1h-3zM477 545h3v1h-3zM667 545h2v1h-2zM735 545h2v1h-2zM845 545h3v1h-3zM925 545h2v1h-2zM86 546h2v1h-2zM281 546h2v1h-2zM315 546h1v1h-1zM431 546h2v1h-2zM463 546h14v1h-14zM669 546h3v1h-3zM733 546h2v1h-2zM848 546h7v1h-7zM922 546h3v1h-3zM84 547h2v1h-2zM283 547h2v1h-2zM314 547h1v1h-1zM672 547h3v1h-3zM731 547h2v1h-2zM855 547h11v1h-11zM920 547h2v1h-2zM57 548h6v1h-6zM82 548h2v1h-2zM285 548h2v1h-2zM312 548h2v1h-2zM675 548h2v1h-2zM729 548h2v1h-2zM866 548h7v1h-7zM917 548h3v1h-3zM63 549h11v1h-11zM80 549h2v1h-2zM287 549h7v1h-7zM311 549h1v1h-1zM677 549h2v1h-2zM728 549h1v1h-1zM873 549h3v1h-3zM913 549h4v1h-4zM74 550h6v1h-6zM294 550h17v1h-17zM679 550h2v1h-2zM726 550h2v1h-2zM876 550h2v1h-2zM907 550h6v1h-6zM681 551h2v1h-2zM724 551h2v1h-2zM878 551h3v1h-3zM888 551h19v1h-19zM683 552h7v1h-7zM722 552h2v1h-2zM881 552h7v1h-7zM690 553h8v1h-8zM720 553h2v1h-2zM698 554h6v1h-6zM718 554h2v1h-2zM704 555h14v1h-14z" fill="#ffffff" shape-rendering="crispEdges"/>
<path d="M958 499h4v1h-4zM979 499h4v1h-4zM956 500h2v1h-2zM962 500h6v1h-6zM973 500h6v1h-6zM983 500h2v1h-2zM954 501h2v1h-2zM968 501h5v1h-5zM985 501h2v1h-2zM952 502h2v1h-2zM987 502h2v1h-2zM154 503h3v1h-3zM518 503h3v1h-3zM950 503h2v1h-2zM989 503h2v1h-2zM148 504h6v1h-6zM157 504h2v1h-2zM514 504h4v1h-4zM521 504h2v1h-2zM561 504h8v1h-8zM948 504h2v1h-2zM991 504h2v1h-2zM143 505h5v1h-5zM159 505h1v1h-1zM510 505h4v1h-4zM523 505h2v1h-2zM555 505h6v1h-6zM569 505h11v1h-11zM946 505h2v1h-2zM993 505h2v1h-2zM137 506h6v1h-6zM160 506h1v1h-1zM508 506h2v1h-2zM525 506h2v1h-2zM552 506h3v1h-3zM580 506h7v1h-7zM945 506h1v1h-1zM995 506h1v1h-1zM129 507h8v1h-8zM161 507h2v1h-2zM506 507h2v1h-2zM527 507h2v1h-2zM550 507h2v1h-2zM587 507h4v1h-4zM944 507h1v1h-1zM996 507h2v1h-2zM123 508h6v1h-6zM163 508h1v1h-1zM505 508h1v1h-1zM529 508h2v1h-2zM549 508h1v1h-1zM591 508h4v1h-4zM942 508h2v1h-2zM998 508h2v1h-2zM121 509h2v1h-2zM164 509h1v1h-1zM504 509h1v1h-1zM531 509h2v1h-2zM548 509h1v1h-1zM595 509h3v1h-3zM941 509h1v1h-1zM1000 509h1v1h-1zM120 510h1v1h-1zM165 510h2v1h-2zM502 510h2v1h-2zM533 510h2v1h-2zM546 510h2v1h-2zM598 510h2v1h-2zM940 510h1v1h-1zM1001 510h2v1h-2zM119 511h1v1h-1zM167 511h1v1h-1zM375 511h7v1h-7zM501 511h1v1h-1zM535 511h2v1h-2zM545 511h1v1h-1zM600 511h2v1h-2zM938 511h2v1h-2zM1003 511h6v1h-6zM117 512h2v1h-2zM168 512h1v1h-1zM373 512h2v1h-2zM382 512h6v1h-6zM500 512h1v1h-1zM537 512h2v1h-2zM544 512h1v1h-1zM602 512h2v1h-2zM937 512h1v1h-1zM1009 512h11v1h-11zM116 513h1v1h-1zM169 513h1v1h-1zM371 513h2v1h-2zM387 513h1v1h-1zM498 513h2v1h-2zM539 513h2v1h-2zM542 513h2v1h-2zM604 513h2v1h-2zM937 513h1v1h-1zM1020 513h6v1h-6zM115 514h1v1h-1zM170 514h1v1h-1zM369 514h2v1h-2zM388 514h1v1h-1zM497 514h1v1h-1zM541 514h1v1h-1zM606 514h2v1h-2zM936 514h1v1h-1zM113 515h2v1h-2zM171 515h1v1h-1zM367 515h2v1h-2zM388 515h1v1h-1zM497 515h1v1h-1zM608 515h1v1h-1zM936 515h1v1h-1zM112 516h1v1h-1zM172 516h1v1h-1zM365 516h2v1h-2zM389 516h1v1h-1zM496 516h1v1h-1zM609 516h1v1h-1zM935 516h1v1h-1zM112 517h1v1h-1zM173 517h1v1h-1zM220 517h3v1h-3zM363 517h2v1h-2zM389 517h1v1h-1zM496 517h1v1h-1zM610 517h1v1h-1zM935 517h1v1h-1zM111 518h1v1h-1zM173 518h1v1h-1zM214 518h6v1h-6zM223 518h1v1h-1zM362 518h1v1h-1zM390 518h1v1h-1zM495 518h1v1h-1zM610 518h1v1h-1zM750 518h2v1h-2zM783 518h1v1h-1zM935 518h1v1h-1zM111 519h1v1h-1zM174 519h1v1h-1zM211 519h3v1h-3zM223 519h1v1h-1zM341 519h4v1h-4zM361 519h1v1h-1zM390 519h1v1h-1zM495 519h1v1h-1zM611 519h1v1h-1zM749 519h1v1h-1zM752 519h3v1h-3zM782 519h1v1h-1zM784 519h2v1h-2zM934 519h1v1h-1zM110 520h1v1h-1zM175 520h1v1h-1zM210 520h1v1h-1zM224 520h1v1h-1zM335 520h6v1h-6zM345 520h2v1h-2zM359 520h2v1h-2zM391 520h1v1h-1zM495 520h1v1h-1zM612 520h1v1h-1zM749 520h1v1h-1zM755 520h2v1h-2zM781 520h1v1h-1zM786 520h2v1h-2zM934 520h1v1h-1zM110 521h1v1h-1zM176 521h1v1h-1zM209 521h1v1h-1zM224 521h1v1h-1zM332 521h3v1h-3zM347 521h2v1h-2zM358 521h1v1h-1zM391 521h1v1h-1zM494 521h1v1h-1zM613 521h1v1h-1zM748 521h1v1h-1zM757 521h3v1h-3zM780 521h1v1h-1zM788 521h2v1h-2zM934 521h1v1h-1zM110 522h1v1h-1zM177 522h1v1h-1zM208 522h1v1h-1zM225 522h1v1h-1zM331 522h1v1h-1zM349 522h2v1h-2zM357 522h1v1h-1zM392 522h1v1h-1zM494 522h1v1h-1zM614 522h1v1h-1zM747 522h1v1h-1zM760 522h2v1h-2zM779 522h1v1h-1zM790 522h2v1h-2zM933 522h1v1h-1zM109 523h1v1h-1zM178 523h1v1h-1zM207 523h1v1h-1zM225 523h1v1h-1zM331 523h1v1h-1zM351 523h2v1h-2zM355 523h2v1h-2zM392 523h1v1h-1zM493 523h1v1h-1zM615 523h1v1h-1zM746 523h1v1h-1zM762 523h2v1h-2zM777 523h2v1h-2zM792 523h2v1h-2zM933 523h1v1h-1zM109 524h1v1h-1zM179 524h1v1h-1zM206 524h1v1h-1zM226 524h1v1h-1zM330 524h1v1h-1zM353 524h2v1h-2zM393 524h1v1h-1zM493 524h1v1h-1zM615 524h1v1h-1zM746 524h1v1h-1zM764 524h2v1h-2zM776 524h1v1h-1zM794 524h2v1h-2zM932 524h1v1h-1zM109 525h1v1h-1zM180 525h1v1h-1zM206 525h1v1h-1zM226 525h1v1h-1zM330 525h1v1h-1zM393 525h1v1h-1zM493 525h1v1h-1zM616 525h1v1h-1zM745 525h1v1h-1zM766 525h2v1h-2zM775 525h1v1h-1zM796 525h2v1h-2zM932 525h1v1h-1zM108 526h1v1h-1zM181 526h1v1h-1zM205 526h1v1h-1zM227 526h1v1h-1zM329 526h1v1h-1zM394 526h1v1h-1zM492 526h1v1h-1zM617 526h1v1h-1zM744 526h1v1h-1zM768 526h2v1h-2zM774 526h1v1h-1zM798 526h2v1h-2zM932 526h1v1h-1zM108 527h1v1h-1zM182 527h1v1h-1zM204 527h1v1h-1zM227 527h1v1h-1zM328 527h1v1h-1zM394 527h1v1h-1zM492 527h1v1h-1zM618 527h1v1h-1zM743 527h1v1h-1zM770 527h2v1h-2zM773 527h1v1h-1zM800 527h2v1h-2zM931 527h1v1h-1zM107 528h1v1h-1zM183 528h2v1h-2zM203 528h1v1h-1zM228 528h1v1h-1zM328 528h1v1h-1zM395 528h1v1h-1zM491 528h1v1h-1zM619 528h1v1h-1zM743 528h1v1h-1zM772 528h1v1h-1zM802 528h2v1h-2zM931 528h1v1h-1zM107 529h1v1h-1zM185 529h1v1h-1zM202 529h1v1h-1zM228 529h1v1h-1zM327 529h1v1h-1zM395 529h1v1h-1zM491 529h1v1h-1zM619 529h1v1h-1zM742 529h1v1h-1zM804 529h2v1h-2zM931 529h1v1h-1zM107 530h1v1h-1zM186 530h1v1h-1zM201 530h1v1h-1zM229 530h1v1h-1zM327 530h1v1h-1zM396 530h1v1h-1zM490 530h1v1h-1zM620 530h1v1h-1zM741 530h1v1h-1zM806 530h1v1h-1zM930 530h1v1h-1zM106 531h1v1h-1zM187 531h1v1h-1zM198 531h3v1h-3zM229 531h1v1h-1zM326 531h1v1h-1zM396 531h1v1h-1zM490 531h1v1h-1zM621 531h1v1h-1zM740 531h1v1h-1zM807 531h1v1h-1zM930 531h1v1h-1zM106 532h1v1h-1zM188 532h1v1h-1zM192 532h6v1h-6zM230 532h1v1h-1zM325 532h1v1h-1zM397 532h1v1h-1zM490 532h1v1h-1zM622 532h1v1h-1zM740 532h1v1h-1zM807 532h1v1h-1zM929 532h1v1h-1zM106 533h1v1h-1zM189 533h3v1h-3zM230 533h1v1h-1zM325 533h1v1h-1zM397 533h1v1h-1zM489 533h1v1h-1zM622 533h1v1h-1zM739 533h1v1h-1zM808 533h1v1h-1zM929 533h1v1h-1zM105 534h1v1h-1zM231 534h1v1h-1zM324 534h1v1h-1zM398 534h1v1h-1zM489 534h1v1h-1zM623 534h1v1h-1zM738 534h1v1h-1zM809 534h1v1h-1zM929 534h1v1h-1zM105 535h1v1h-1zM231 535h1v1h-1zM323 535h1v1h-1zM398 535h1v1h-1zM488 535h1v1h-1zM624 535h1v1h-1zM737 535h1v1h-1zM810 535h1v1h-1zM928 535h1v1h-1zM104 536h1v1h-1zM232 536h1v1h-1zM323 536h1v1h-1zM399 536h2v1h-2zM488 536h1v1h-1zM625 536h1v1h-1zM736 536h1v1h-1zM811 536h1v1h-1zM928 536h1v1h-1zM104 537h1v1h-1zM232 537h1v1h-1zM322 537h1v1h-1zM401 537h1v1h-1zM488 537h1v1h-1zM625 537h1v1h-1zM735 537h1v1h-1zM811 537h1v1h-1zM928 537h1v1h-1zM104 538h1v1h-1zM233 538h1v1h-1zM322 538h1v1h-1zM402 538h2v1h-2zM487 538h1v1h-1zM626 538h1v1h-1zM734 538h1v1h-1zM812 538h1v1h-1zM927 538h1v1h-1zM103 539h1v1h-1zM233 539h12v1h-12zM321 539h1v1h-1zM404 539h2v1h-2zM487 539h1v1h-1zM627 539h1v1h-1zM734 539h1v1h-1zM813 539h1v1h-1zM927 539h1v1h-1zM103 540h1v1h-1zM245 540h2v1h-2zM320 540h1v1h-1zM406 540h1v1h-1zM486 540h1v1h-1zM628 540h1v1h-1zM733 540h1v1h-1zM814 540h1v1h-1zM926 540h1v1h-1zM103 541h1v1h-1zM247 541h1v1h-1zM320 541h1v1h-1zM407 541h2v1h-2zM486 541h1v1h-1zM628 541h1v1h-1zM732 541h1v1h-1zM814 541h1v1h-1zM926 541h1v1h-1zM102 542h1v1h-1zM248 542h2v1h-2zM319 542h1v1h-1zM409 542h1v1h-1zM485 542h1v1h-1zM629 542h1v1h-1zM731 542h1v1h-1zM815 542h1v1h-1zM924 542h2v1h-2zM102 543h1v1h-1zM250 543h2v1h-2zM319 543h1v1h-1zM410 543h1v1h-1zM484 543h1v1h-1zM630 543h1v1h-1zM730 543h1v1h-1zM816 543h1v1h-1zM923 543h1v1h-1zM90 544h6v1h-6zM101 544h1v1h-1zM252 544h1v1h-1zM318 544h1v1h-1zM411 544h2v1h-2zM483 544h1v1h-1zM630 544h1v1h-1zM729 544h1v1h-1zM817 544h1v1h-1zM922 544h1v1h-1zM89 545h1v1h-1zM96 545h6v1h-6zM253 545h2v1h-2zM318 545h1v1h-1zM413 545h1v1h-1zM482 545h1v1h-1zM631 545h1v1h-1zM728 545h1v1h-1zM818 545h1v1h-1zM920 545h2v1h-2zM88 546h1v1h-1zM255 546h1v1h-1zM317 546h1v1h-1zM414 546h1v1h-1zM480 546h2v1h-2zM632 546h1v1h-1zM727 546h1v1h-1zM819 546h1v1h-1zM919 546h1v1h-1zM87 547h1v1h-1zM256 547h2v1h-2zM316 547h1v1h-1zM415 547h1v1h-1zM452 547h2v1h-2zM479 547h1v1h-1zM632 547h1v1h-1zM727 547h1v1h-1zM819 547h1v1h-1zM838 547h1v1h-1zM918 547h1v1h-1zM87 548h1v1h-1zM258 548h2v1h-2zM316 548h1v1h-1zM416 548h1v1h-1zM450 548h2v1h-2zM454 548h2v1h-2zM478 548h1v1h-1zM633 548h1v1h-1zM726 548h1v1h-1zM820 548h1v1h-1zM837 548h1v1h-1zM839 548h1v1h-1zM916 548h2v1h-2zM86 549h1v1h-1zM260 549h2v1h-2zM315 549h1v1h-1zM417 549h2v1h-2zM448 549h2v1h-2zM456 549h2v1h-2zM477 549h1v1h-1zM634 549h1v1h-1zM726 549h1v1h-1zM821 549h1v1h-1zM835 549h2v1h-2zM840 549h2v1h-2zM910 549h6v1h-6zM85 550h1v1h-1zM262 550h2v1h-2zM315 550h1v1h-1zM419 550h1v1h-1zM446 550h2v1h-2zM458 550h2v1h-2zM476 550h1v1h-1zM635 550h1v1h-1zM725 550h1v1h-1zM822 550h1v1h-1zM834 550h1v1h-1zM842 550h1v1h-1zM903 550h7v1h-7zM84 551h1v1h-1zM264 551h2v1h-2zM314 551h1v1h-1zM420 551h1v1h-1zM444 551h2v1h-2zM460 551h2v1h-2zM473 551h3v1h-3zM635 551h1v1h-1zM724 551h1v1h-1zM823 551h1v1h-1zM833 551h1v1h-1zM843 551h1v1h-1zM901 551h2v1h-2zM83 552h1v1h-1zM266 552h1v1h-1zM313 552h1v1h-1zM421 552h1v1h-1zM442 552h2v1h-2zM462 552h2v1h-2zM467 552h6v1h-6zM636 552h1v1h-1zM724 552h1v1h-1zM824 552h1v1h-1zM832 552h1v1h-1zM844 552h1v1h-1zM899 552h2v1h-2zM82 553h1v1h-1zM267 553h2v1h-2zM313 553h1v1h-1zM422 553h1v1h-1zM441 553h1v1h-1zM464 553h3v1h-3zM637 553h1v1h-1zM723 553h1v1h-1zM824 553h1v1h-1zM831 553h1v1h-1zM845 553h1v1h-1zM897 553h2v1h-2zM82 554h1v1h-1zM269 554h1v1h-1zM312 554h1v1h-1zM423 554h1v1h-1zM440 554h1v1h-1zM637 554h1v1h-1zM723 554h1v1h-1zM825 554h1v1h-1zM829 554h2v1h-2zM846 554h2v1h-2zM858 554h8v1h-8zM895 554h2v1h-2zM81 555h1v1h-1zM270 555h2v1h-2zM312 555h1v1h-1zM424 555h1v1h-1zM439 555h1v1h-1zM638 555h1v1h-1zM722 555h1v1h-1zM826 555h1v1h-1zM828 555h1v1h-1zM848 555h1v1h-1zM852 555h6v1h-6zM866 555h6v1h-6zM893 555h2v1h-2zM80 556h1v1h-1zM272 556h2v1h-2zM311 556h1v1h-1zM425 556h1v1h-1zM438 556h1v1h-1zM639 556h1v1h-1zM721 556h1v1h-1zM827 556h1v1h-1zM849 556h3v1h-3zM872 556h2v1h-2zM891 556h2v1h-2zM78 557h2v1h-2zM274 557h1v1h-1zM311 557h1v1h-1zM426 557h1v1h-1zM436 557h2v1h-2zM639 557h1v1h-1zM721 557h1v1h-1zM874 557h1v1h-1zM890 557h1v1h-1zM76 558h2v1h-2zM275 558h2v1h-2zM309 558h2v1h-2zM427 558h1v1h-1zM435 558h1v1h-1zM640 558h1v1h-1zM720 558h1v1h-1zM875 558h2v1h-2zM888 558h2v1h-2zM74 559h2v1h-2zM277 559h1v1h-1zM305 559h4v1h-4zM428 559h1v1h-1zM434 559h1v1h-1zM641 559h1v1h-1zM662 559h2v1h-2zM719 559h1v1h-1zM877 559h2v1h-2zM886 559h2v1h-2zM72 560h2v1h-2zM278 560h2v1h-2zM301 560h4v1h-4zM429 560h1v1h-1zM433 560h1v1h-1zM642 560h1v1h-1zM661 560h1v1h-1zM664 560h2v1h-2zM719 560h1v1h-1zM879 560h1v1h-1zM885 560h1v1h-1zM70 561h2v1h-2zM280 561h2v1h-2zM298 561h3v1h-3zM430 561h1v1h-1zM432 561h1v1h-1zM643 561h1v1h-1zM659 561h2v1h-2zM666 561h2v1h-2zM718 561h1v1h-1zM880 561h2v1h-2zM883 561h2v1h-2zM67 562h3v1h-3zM282 562h2v1h-2zM295 562h3v1h-3zM431 562h1v1h-1zM644 562h1v1h-1zM658 562h1v1h-1zM668 562h2v1h-2zM718 562h1v1h-1zM882 562h1v1h-1zM63 563h4v1h-4zM284 563h2v1h-2zM293 563h2v1h-2zM645 563h2v1h-2zM657 563h1v1h-1zM670 563h2v1h-2zM716 563h2v1h-2zM59 564h4v1h-4zM286 564h2v1h-2zM290 564h3v1h-3zM647 564h1v1h-1zM656 564h1v1h-1zM672 564h3v1h-3zM712 564h4v1h-4zM57 565h2v1h-2zM288 565h2v1h-2zM648 565h1v1h-1zM655 565h1v1h-1zM675 565h3v1h-3zM708 565h4v1h-4zM649 566h1v1h-1zM653 566h2v1h-2zM678 566h2v1h-2zM701 566h7v1h-7zM650 567h1v1h-1zM652 567h1v1h-1zM680 567h3v1h-3zM690 567h11v1h-11zM651 568h1v1h-1zM683 568h7v1h-7z" fill="#ff00ff" shape-rendering="crispEdges"/>
<ellipse cx="191.6" cy="28.6" rx="54.4" ry="11.4" fill="none" stroke="#ffff00" stroke-width="3.3"/>
<ellipse cx="242.5" cy="487.5" rx="114.3" ry="18.2" fill="none" stroke="#ffff00" stroke-width="3.2"/>
<ellipse cx="606.9" cy="67.3" rx="8.0" ry="8.2" fill="none" stroke="#ffff00" stroke-width="2.8"/>
<ellipse cx="630.6" cy="95" rx="9.6" ry="6.0" fill="none" stroke="#ffff00" stroke-width="2.8"/>
<ellipse cx="752.5" cy="155.1" rx="8.8" ry="3.4" fill="none" stroke="#ffff00" stroke-width="2.6"/>
<ellipse cx="803.9" cy="183.9" rx="4.4" ry="2.5" fill="none" stroke="#ffff00" stroke-width="2.3"/>
<ellipse cx="948.1" cy="183.8" rx="3.3" ry="3.3" fill="none" stroke="#ffff00" stroke-width="2.3"/>
<ellipse cx="980.2" cy="193.6" rx="7.9" ry="6.4" fill="none" stroke="#ffff00" stroke-width="2.8"/>
<ellipse cx="934.5" cy="462.8" rx="8.5" ry="8.5" fill="none" stroke="#ffff00" stroke-width="2.6"/>
<path d="M11.5 7.5H6.5V11.5H12 M10.7 5.2L17 14 M16 7.5H21.5V11.5H16.5" fill="none" stroke="#c8c8c8" stroke-width="1"/>
<text x="26.5" y="13.6" fill="#ffffff" font-size="12" font-family='"Noto Sans CJK SC","Liberation Sans",sans-serif' text-anchor="start" textLength="47.5" lengthAdjust="spacingAndGlyphs" >美元指数</text>
<text x="76" y="13.2" fill="#ffffff" font-size="11" font-family='"Liberation Mono",monospace' text-anchor="start" textLength="53.5" lengthAdjust="spacingAndGlyphs" >(FX 8151)</text>
<text x="141" y="13.6" fill="#ffffff" font-size="12" font-family='"Noto Sans CJK SC","Liberation Sans",sans-serif' text-anchor="start" textLength="23" lengthAdjust="spacingAndGlyphs" >日线</text>
<path d="M167 7.5L171.5 12L176 7.5" fill="none" stroke="#fff" stroke-width="1.3"/>
<text x="57.5" y="30.9" fill="#ffff00" font-size="12.5" font-family='"Liberation Sans","Noto Sans CJK SC",sans-serif' text-anchor="start" textLength="79.5" lengthAdjust="spacingAndGlyphs" >BOLL(26,26,2)</text>
<path d="M140 26.5L143.5 30L149 24.5" fill="none" stroke="#ffff00" stroke-width="1.2"/>
<text x="158" y="30.9" fill="#ffffff" font-size="12.5" font-family='"Liberation Sans","Noto Sans CJK SC",sans-serif' text-anchor="start" textLength="64" lengthAdjust="spacingAndGlyphs" >MID 94.988</text>
<text x="241" y="30.9" fill="#ffff00" font-size="12.5" font-family='"Liberation Sans","Noto Sans CJK SC",sans-serif' text-anchor="start" textLength="65" lengthAdjust="spacingAndGlyphs" >TOP 96.151</text>
<text x="325" y="30.9" fill="#ff00ff" font-size="12.5" font-family='"Liberation Sans","Noto Sans CJK SC",sans-serif' text-anchor="start" textLength="93" lengthAdjust="spacingAndGlyphs" >BOTTOM 93.825</text>
<ellipse cx="191.6" cy="28.6" rx="54.4" ry="11.4" fill="none" stroke="#ffff00" stroke-width="3.3"/>
<text x="200" y="166" fill="#ff3c3c" font-size="12.5" font-family='"Liberation Sans","Noto Sans CJK SC",sans-serif' text-anchor="start" textLength="39" lengthAdjust="spacingAndGlyphs" >95.531</text>
<text x="365" y="156" fill="#ff3c3c" font-size="12.5" font-family='"Liberation Sans","Noto Sans CJK SC",sans-serif' text-anchor="start" textLength="39" lengthAdjust="spacingAndGlyphs" >95.652</text>
<text x="574.5" y="46" fill="#ff3c3c" font-size="12.5" font-family='"Liberation Sans","Noto Sans CJK SC",sans-serif' text-anchor="start" textLength="38" lengthAdjust="spacingAndGlyphs" >96.984</text>
<text x="970" y="117" fill="#ff3c3c" font-size="12.5" font-family='"Liberation Sans","Noto Sans CJK SC",sans-serif' text-anchor="start" textLength="38" lengthAdjust="spacingAndGlyphs" >96.121</text>
<text x="277" y="334.5" fill="#00f4f4" font-size="12.5" font-family='"Liberation Sans","Noto Sans CJK SC",sans-serif' text-anchor="start" textLength="38" lengthAdjust="spacingAndGlyphs" >93.697</text>
<text x="871" y="326" fill="#00f4f4" font-size="12.5" font-family='"Liberation Sans","Noto Sans CJK SC",sans-serif' text-anchor="start" textLength="38.5" lengthAdjust="spacingAndGlyphs" >93.793</text>
<text x="90" y="378" fill="#00f4f4" font-size="12.5" font-family='"Liberation Sans","Noto Sans CJK SC",sans-serif' text-anchor="start" textLength="38.5" lengthAdjust="spacingAndGlyphs" >93.155</text>
<text x="53.5" y="378" fill="#ffff00" font-size="12.5" font-family='"Liberation Sans","Noto Sans CJK SC",sans-serif' text-anchor="start" textLength="24" lengthAdjust="spacingAndGlyphs" >89天</text>
<text x="49.5" y="136" fill="#a0a0a0" font-size="12.5" font-family='"Liberation Sans","Noto Sans CJK SC",sans-serif' text-anchor="end" textLength="37.5" lengthAdjust="spacingAndGlyphs" >96.000</text>
<text x="49.5" y="300" fill="#a0a0a0" font-size="12.5" font-family='"Liberation Sans","Noto Sans CJK SC",sans-serif' text-anchor="end" textLength="37.5" lengthAdjust="spacingAndGlyphs" >94.000</text>
<text x="49.5" y="417" fill="#a0a0a0" font-size="12.5" font-family='"Liberation Sans","Noto Sans CJK SC",sans-serif' text-anchor="end" textLength="30" lengthAdjust="spacingAndGlyphs" >0.500</text>
<text x="49.5" y="454" fill="#a0a0a0" font-size="12.5" font-family='"Liberation Sans","Noto Sans CJK SC",sans-serif' text-anchor="end" textLength="30" lengthAdjust="spacingAndGlyphs" >0.000</text>
<text x="49.5" y="511" fill="#a0a0a0" font-size="12.5" font-family='"Liberation Sans","Noto Sans CJK SC",sans-serif' text-anchor="end" textLength="19.5" lengthAdjust="spacingAndGlyphs" >100</text>
<text x="49.5" y="522" fill="#a0a0a0" font-size="12.5" font-family='"Liberation Sans","Noto Sans CJK SC",sans-serif' text-anchor="end" textLength="13" lengthAdjust="spacingAndGlyphs" >80</text>
<text x="49.5" y="539" fill="#a0a0a0" font-size="12.5" font-family='"Liberation Sans","Noto Sans CJK SC",sans-serif' text-anchor="end" textLength="13" lengthAdjust="spacingAndGlyphs" >50</text>
<text x="49.5" y="556" fill="#a0a0a0" font-size="12.5" font-family='"Liberation Sans","Noto Sans CJK SC",sans-serif' text-anchor="end" textLength="13" lengthAdjust="spacingAndGlyphs" >20</text>
<text x="49.5" y="567" fill="#a0a0a0" font-size="12.5" font-family='"Liberation Sans","Noto Sans CJK SC",sans-serif' text-anchor="end" textLength="6.5" lengthAdjust="spacingAndGlyphs" >0</text>
<text x="57.5" y="396" fill="#ffff00" font-size="12.5" font-family='"Liberation Sans","Noto Sans CJK SC",sans-serif' text-anchor="start" textLength="83.5" lengthAdjust="spacingAndGlyphs" >MACD(12,26,9)</text>
<path d="M144.5 391L148 394.5L152 390" fill="none" stroke="#ffff00" stroke-width="1.2"/>
<text x="162.5" y="396" fill="#ffffff" font-size="12.5" font-family='"Liberation Sans","Noto Sans CJK SC",sans-serif' text-anchor="start" textLength="58.5" lengthAdjust="spacingAndGlyphs" >DIFF 0.217</text>
<text x="240.5" y="396" fill="#ffff00" font-size="12.5" font-family='"Liberation Sans","Noto Sans CJK SC",sans-serif' text-anchor="start" textLength="58" lengthAdjust="spacingAndGlyphs" >DEA 0.070</text>
<text x="321.5" y="396" fill="#ffffff" font-size="12.5" font-family='"Liberation Sans","Noto Sans CJK SC",sans-serif' text-anchor="start" textLength="31" lengthAdjust="spacingAndGlyphs" >0.295</text>
<text x="57.5" y="494.2" fill="#ffff00" font-size="12.5" font-family='"Liberation Sans","Noto Sans CJK SC",sans-serif' text-anchor="start" textLength="58" lengthAdjust="spacingAndGlyphs" >KDJ(9,3,3)</text>
<path d="M118.5 489.5L122 493L126 488.5" fill="none" stroke="#ffff00" stroke-width="1.2"/>
<text x="136" y="494.2" fill="#ffffff" font-size="12.5" font-family='"Liberation Sans","Noto Sans CJK SC",sans-serif' text-anchor="start" textLength="48.5" lengthAdjust="spacingAndGlyphs" >K 82.311</text>
<text x="204.5" y="494.2" fill="#ffff00" font-size="12.5" font-family='"Liberation Sans","Noto Sans CJK SC",sans-serif' text-anchor="start" textLength="49.5" lengthAdjust="spacingAndGlyphs" >D 79.851</text>
<text x="273" y="494.2" fill="#ff00ff" font-size="12.5" font-family='"Liberation Sans","Noto Sans CJK SC",sans-serif' text-anchor="start" textLength="46.5" lengthAdjust="spacingAndGlyphs" >J 87.231</text>
<text x="226" y="584" fill="#a0a0a0" font-size="12.5" font-family='"Liberation Sans","Noto Sans CJK SC",sans-serif' text-anchor="start" textLength="45" lengthAdjust="spacingAndGlyphs" >2018/07</text>
<text x="468.5" y="584" fill="#a0a0a0" font-size="12.5" font-family='"Liberation Sans","Noto Sans CJK SC",sans-serif' text-anchor="start" textLength="46" lengthAdjust="spacingAndGlyphs" >2018/08</text>
<text x="721.7" y="584" fill="#a0a0a0" font-size="12.5" font-family='"Liberation Sans","Noto Sans CJK SC",sans-serif' text-anchor="start" textLength="46" lengthAdjust="spacingAndGlyphs" >2018/09</text>
<text x="1008.5" y="584" fill="#a0a0a0" font-size="12.5" font-family='"Liberation Sans","Noto Sans CJK SC",sans-serif' text-anchor="start" textLength="45" lengthAdjust="spacingAndGlyphs" >2018/10</text>
<ellipse cx="908.3" cy="549.5" rx="14.5" ry="7.2" fill="none" stroke="#ffff00" stroke-width="2.6"/>
<rect x="850" y="537" width="231" height="35" fill="#e8e8e8" fill-opacity="0.46"/>
<text x="849.8" y="567" fill="#ff8e00" font-size="27.6" font-family='"Liberation Sans","Noto Sans CJK SC",sans-serif' text-anchor="start" textLength="78.5" lengthAdjust="spacingAndGlyphs" font-weight="bold" opacity="0.66" stroke-width="0.7" stroke="#ff8e00">GOLD</text>
<text x="929.6" y="567" fill="#ff8e00" font-size="41.5" font-family='"Liberation Sans","Noto Sans CJK SC",sans-serif' text-anchor="start" textLength="70" lengthAdjust="spacingAndGlyphs" font-weight="bold" opacity="0.66" stroke-width="0.7" stroke="#ff8e00">678</text>
<text x="1000.5" y="567" fill="#eb2304" font-size="27.6" font-family='"Liberation Sans","Noto Sans CJK SC",sans-serif' text-anchor="start" textLength="79.5" lengthAdjust="spacingAndGlyphs" font-weight="bold" opacity="0.66" stroke-width="0.7" stroke="#eb2304">.COM</text>
<path d="M1091.5 136L1095.5 139.5L1091.5 143" fill="none" stroke="#ffff00" stroke-width="1.5"/>
<path d="M1091.5 549L1095.5 552L1091.5 555.5" fill="none" stroke="#ffff00" stroke-width="1.5"/>
<rect x="1094" y="9" width="3" height="1" fill="#ffff00"/>
<rect x="1093" y="16" width="3" height="1" fill="#ffff00"/>
<rect x="1094" y="19" width="3" height="1" fill="#ffff00"/>
<rect x="1093" y="26" width="3" height="1" fill="#ffff00"/>
<rect x="1094.5" y="67.5" width="3" height="4" fill="none" stroke="#e0e0e0"/>
<rect x="1092" y="73" width="4" height="1" fill="#e0e0e0"/><rect x="1093" y="73" width="1" height="7" fill="#e0e0e0"/><rect x="1093" y="76" width="3" height="1" fill="#e0e0e0"/><rect x="1092" y="79" width="4" height="1" fill="#e0e0e0"/>
<rect x="1093" y="88" width="1" height="1" fill="#d0d0d0"/>
<rect x="1094" y="89" width="1" height="1" fill="#d0d0d0"/>
<rect x="1092" y="91" width="1" height="1" fill="#d0d0d0"/>
<rect x="1093" y="92" width="1" height="1" fill="#d0d0d0"/>
<rect x="1094" y="94" width="1" height="1" fill="#d0d0d0"/>
<rect x="1094" y="95" width="1" height="1" fill="#d0d0d0"/>
<rect x="1093" y="97" width="1" height="1" fill="#d0d0d0"/>
<rect x="1092" y="99" width="1" height="1" fill="#d0d0d0"/>
<rect x="1095" y="114" width="1" height="10" fill="#b0b0b0"/>
<rect x="1095" y="284" width="1" height="10" fill="#b0b0b0"/>
</svg>
</body></html>
